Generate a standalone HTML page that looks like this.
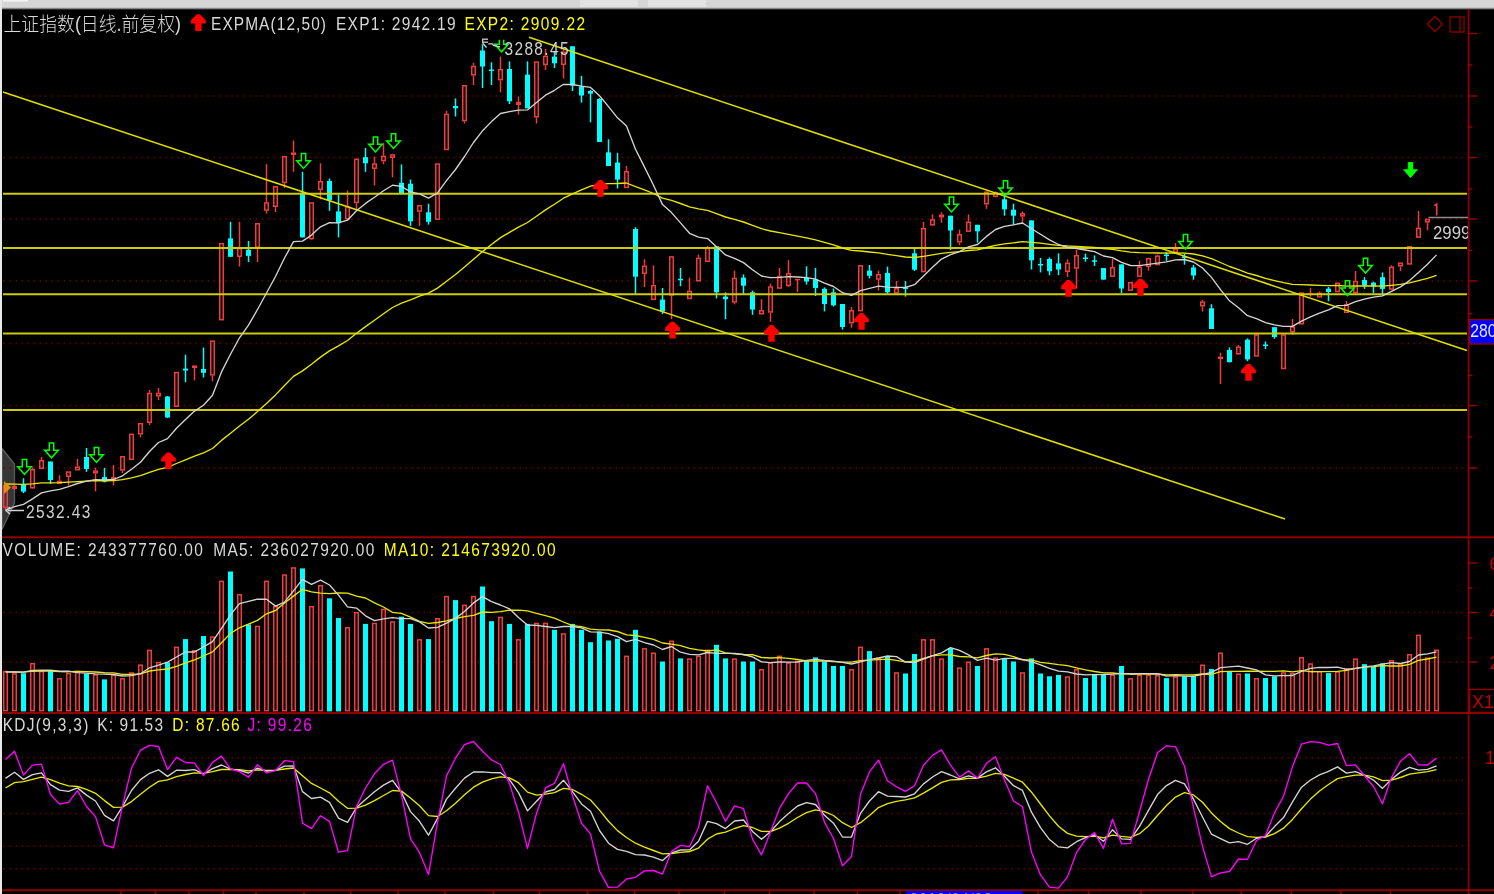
<!DOCTYPE html>
<html><head><meta charset="utf-8"><title>上证指数</title>
<style>html,body{margin:0;padding:0;background:#000;overflow:hidden;width:1494px;height:894px}</style>
</head><body>
<svg width="1494" height="894" viewBox="0 0 1494 894" style="display:block;will-change:transform">
<rect width="1494" height="894" fill="#000"/>
<polygon points="2,448.5 14.5,464 14.5,503 2,529.5" fill="#363636" stroke="#5c5c5c" stroke-width="1.3"/>
<line x1="3" y1="96" x2="1466" y2="96" stroke="#6e0000" stroke-width="1.5" stroke-dasharray="1.5 4.5" stroke-dashoffset="-0.5"/>
<line x1="3" y1="157.5" x2="1466" y2="157.5" stroke="#6e0000" stroke-width="1.5" stroke-dasharray="1.5 4.5" stroke-dashoffset="-0.5"/>
<line x1="3" y1="219" x2="1466" y2="219" stroke="#6e0000" stroke-width="1.5" stroke-dasharray="1.5 4.5" stroke-dashoffset="-0.5"/>
<line x1="3" y1="281" x2="1466" y2="281" stroke="#6e0000" stroke-width="1.5" stroke-dasharray="1.5 4.5" stroke-dashoffset="-0.5"/>
<line x1="3" y1="343.5" x2="1466" y2="343.5" stroke="#6e0000" stroke-width="1.5" stroke-dasharray="1.5 4.5" stroke-dashoffset="-0.5"/>
<line x1="3" y1="405.5" x2="1466" y2="405.5" stroke="#6e0000" stroke-width="1.5" stroke-dasharray="1.5 4.5" stroke-dashoffset="-0.5"/>
<line x1="3" y1="468" x2="1466" y2="468" stroke="#6e0000" stroke-width="1.5" stroke-dasharray="1.5 4.5" stroke-dashoffset="-0.5"/>
<line x1="3" y1="612.5" x2="1466" y2="612.5" stroke="#6e0000" stroke-width="1.5" stroke-dasharray="1.5 4.5" stroke-dashoffset="-0.5"/>
<line x1="3" y1="662" x2="1466" y2="662" stroke="#6e0000" stroke-width="1.5" stroke-dasharray="1.5 4.5" stroke-dashoffset="-0.5"/>
<line x1="3" y1="757.8" x2="1466" y2="757.8" stroke="#6e0000" stroke-width="1.5" stroke-dasharray="1.5 4.5" stroke-dashoffset="-0.5"/>
<line x1="3" y1="780.5" x2="1466" y2="780.5" stroke="#6e0000" stroke-width="1.5" stroke-dasharray="1.5 4.5" stroke-dashoffset="-0.5"/>
<line x1="3" y1="813.5" x2="1466" y2="813.5" stroke="#6e0000" stroke-width="1.5" stroke-dasharray="1.5 4.5" stroke-dashoffset="-0.5"/>
<line x1="3" y1="846" x2="1466" y2="846" stroke="#6e0000" stroke-width="1.5" stroke-dasharray="1.5 4.5" stroke-dashoffset="-0.5"/>
<line x1="3" y1="868.8" x2="1466" y2="868.8" stroke="#6e0000" stroke-width="1.5" stroke-dasharray="1.5 4.5" stroke-dashoffset="-0.5"/>
<line x1="5.5" y1="484.0" x2="5.5" y2="485.0" stroke="#f03c3c" stroke-width="1.5"/><line x1="5.5" y1="508.0" x2="5.5" y2="510.0" stroke="#f03c3c" stroke-width="1.5"/><rect x="3.75" y="485.75" width="3.5" height="21.50" fill="none" stroke="#f03c3c" stroke-width="1.5"/><line x1="14.5" y1="485.0" x2="14.5" y2="486.0" stroke="#f03c3c" stroke-width="1.5"/><line x1="14.5" y1="489.0" x2="14.5" y2="490.0" stroke="#f03c3c" stroke-width="1.5"/><rect x="12.75" y="486.75" width="3.5" height="1.50" fill="none" stroke="#f03c3c" stroke-width="1.5"/><line x1="23.5" y1="478.3" x2="23.5" y2="493.1" stroke="#00ffff" stroke-width="1.5"/><rect x="21.0" y="484.1" width="5" height="7.50" fill="#00ffff"/><line x1="32.5" y1="467.5" x2="32.5" y2="469.0" stroke="#f03c3c" stroke-width="1.5"/><line x1="32.5" y1="488.5" x2="32.5" y2="489.0" stroke="#f03c3c" stroke-width="1.5"/><rect x="30.75" y="469.75" width="3.5" height="18.00" fill="none" stroke="#f03c3c" stroke-width="1.5"/><line x1="41.5" y1="457.0" x2="41.5" y2="460.0" stroke="#f03c3c" stroke-width="1.5"/><rect x="39.75" y="460.75" width="3.5" height="7.50" fill="none" stroke="#f03c3c" stroke-width="1.5"/><line x1="50.5" y1="461.5" x2="50.5" y2="484.0" stroke="#00ffff" stroke-width="1.5"/><rect x="48.0" y="461.5" width="5" height="18.50" fill="#00ffff"/><line x1="59.5" y1="475.3" x2="59.5" y2="480.7" stroke="#f03c3c" stroke-width="1.5"/><rect x="57.75" y="481.45" width="3.5" height="1.80" fill="none" stroke="#f03c3c" stroke-width="1.5"/><line x1="68.5" y1="477.0" x2="68.5" y2="485.6" stroke="#f03c3c" stroke-width="1.5"/><rect x="66.75" y="472.05" width="3.5" height="4.20" fill="none" stroke="#f03c3c" stroke-width="1.5"/><line x1="77.5" y1="459.0" x2="77.5" y2="466.4" stroke="#f03c3c" stroke-width="1.5"/><rect x="75.75" y="467.15" width="3.5" height="2.50" fill="none" stroke="#f03c3c" stroke-width="1.5"/><line x1="86.5" y1="448.0" x2="86.5" y2="471.8" stroke="#00ffff" stroke-width="1.5"/><rect x="84.0" y="457.0" width="5" height="12.00" fill="#00ffff"/><line x1="95.5" y1="467.7" x2="95.5" y2="470.4" stroke="#f03c3c" stroke-width="1.5"/><line x1="95.5" y1="473.5" x2="95.5" y2="491.4" stroke="#f03c3c" stroke-width="1.5"/><rect x="93.75" y="471.15" width="3.5" height="1.60" fill="none" stroke="#f03c3c" stroke-width="1.5"/><line x1="104.5" y1="467.8" x2="104.5" y2="482.4" stroke="#00ffff" stroke-width="1.5"/><rect x="102.0" y="477.0" width="5" height="4.70" fill="#00ffff"/><line x1="113.5" y1="465.0" x2="113.5" y2="477.0" stroke="#f03c3c" stroke-width="1.5"/><line x1="113.5" y1="480.0" x2="113.5" y2="485.5" stroke="#f03c3c" stroke-width="1.5"/><rect x="111.75" y="477.75" width="3.5" height="1.50" fill="none" stroke="#f03c3c" stroke-width="1.5"/><line x1="122.5" y1="470.7" x2="122.5" y2="473.0" stroke="#f03c3c" stroke-width="1.5"/><rect x="120.75" y="456.75" width="3.5" height="13.20" fill="none" stroke="#f03c3c" stroke-width="1.5"/><rect x="129.75" y="434.35" width="3.5" height="24.90" fill="none" stroke="#f03c3c" stroke-width="1.5"/><line x1="140.5" y1="434.6" x2="140.5" y2="437.4" stroke="#f03c3c" stroke-width="1.5"/><rect x="138.75" y="423.75" width="3.5" height="10.10" fill="none" stroke="#f03c3c" stroke-width="1.5"/><line x1="149.5" y1="390.0" x2="149.5" y2="392.7" stroke="#f03c3c" stroke-width="1.5"/><line x1="149.5" y1="423.0" x2="149.5" y2="425.0" stroke="#f03c3c" stroke-width="1.5"/><rect x="147.75" y="393.45" width="3.5" height="28.80" fill="none" stroke="#f03c3c" stroke-width="1.5"/><line x1="158.5" y1="388.0" x2="158.5" y2="392.7" stroke="#f03c3c" stroke-width="1.5"/><line x1="158.5" y1="396.5" x2="158.5" y2="400.0" stroke="#f03c3c" stroke-width="1.5"/><rect x="156.75" y="393.45" width="3.5" height="2.30" fill="none" stroke="#f03c3c" stroke-width="1.5"/><line x1="167.5" y1="396.0" x2="167.5" y2="418.0" stroke="#00ffff" stroke-width="1.5"/><rect x="165.0" y="396.5" width="5" height="21.00" fill="#00ffff"/><rect x="174.75" y="372.55" width="3.5" height="33.70" fill="none" stroke="#f03c3c" stroke-width="1.5"/><line x1="185.5" y1="354.7" x2="185.5" y2="382.3" stroke="#00ffff" stroke-width="1.5"/><rect x="183.0" y="368.6" width="5" height="1.90" fill="#00ffff"/><line x1="194.5" y1="365.0" x2="194.5" y2="365.5" stroke="#f03c3c" stroke-width="1.5"/><line x1="194.5" y1="368.0" x2="194.5" y2="380.4" stroke="#f03c3c" stroke-width="1.5"/><rect x="192.75" y="366.25" width="3.5" height="1.00" fill="none" stroke="#f03c3c" stroke-width="1.5"/><line x1="203.5" y1="347.5" x2="203.5" y2="377.5" stroke="#00ffff" stroke-width="1.5"/><rect x="201.0" y="369.0" width="5" height="3.80" fill="#00ffff"/><line x1="212.5" y1="375.6" x2="212.5" y2="381.3" stroke="#f03c3c" stroke-width="1.5"/><rect x="210.75" y="341.25" width="3.5" height="33.60" fill="none" stroke="#f03c3c" stroke-width="1.5"/><rect x="219.75" y="243.75" width="3.5" height="75.90" fill="none" stroke="#f03c3c" stroke-width="1.5"/><line x1="230.5" y1="221.8" x2="230.5" y2="256.8" stroke="#00ffff" stroke-width="1.5"/><rect x="228.0" y="238.4" width="5" height="18.40" fill="#00ffff"/><line x1="239.5" y1="221.8" x2="239.5" y2="247.9" stroke="#f03c3c" stroke-width="1.5"/><line x1="239.5" y1="257.0" x2="239.5" y2="266.5" stroke="#f03c3c" stroke-width="1.5"/><rect x="237.75" y="248.65" width="3.5" height="7.60" fill="none" stroke="#f03c3c" stroke-width="1.5"/><line x1="248.5" y1="241.0" x2="248.5" y2="262.0" stroke="#00ffff" stroke-width="1.5"/><rect x="246.0" y="249.8" width="5" height="6.10" fill="#00ffff"/><line x1="257.5" y1="247.9" x2="257.5" y2="262.0" stroke="#f03c3c" stroke-width="1.5"/><rect x="255.75" y="223.75" width="3.5" height="23.40" fill="none" stroke="#f03c3c" stroke-width="1.5"/><line x1="266.5" y1="164.2" x2="266.5" y2="202.2" stroke="#f03c3c" stroke-width="1.5"/><line x1="266.5" y1="210.8" x2="266.5" y2="213.6" stroke="#f03c3c" stroke-width="1.5"/><rect x="264.75" y="202.95" width="3.5" height="7.10" fill="none" stroke="#f03c3c" stroke-width="1.5"/><line x1="275.5" y1="207.0" x2="275.5" y2="212.0" stroke="#f03c3c" stroke-width="1.5"/><rect x="273.75" y="186.75" width="3.5" height="19.50" fill="none" stroke="#f03c3c" stroke-width="1.5"/><line x1="284.5" y1="183.2" x2="284.5" y2="188.0" stroke="#f03c3c" stroke-width="1.5"/><rect x="282.75" y="156.75" width="3.5" height="25.70" fill="none" stroke="#f03c3c" stroke-width="1.5"/><line x1="293.5" y1="140.5" x2="293.5" y2="152.4" stroke="#f03c3c" stroke-width="1.5"/><line x1="293.5" y1="155.0" x2="293.5" y2="171.8" stroke="#f03c3c" stroke-width="1.5"/><rect x="291.75" y="153.15" width="3.5" height="1.10" fill="none" stroke="#f03c3c" stroke-width="1.5"/><line x1="302.5" y1="171.8" x2="302.5" y2="237.4" stroke="#00ffff" stroke-width="1.5"/><rect x="300.0" y="192.7" width="5" height="44.70" fill="#00ffff"/><line x1="311.5" y1="239.3" x2="311.5" y2="240.0" stroke="#f03c3c" stroke-width="1.5"/><rect x="309.75" y="202.95" width="3.5" height="35.60" fill="none" stroke="#f03c3c" stroke-width="1.5"/><line x1="320.5" y1="163.3" x2="320.5" y2="181.0" stroke="#f03c3c" stroke-width="1.5"/><line x1="320.5" y1="190.0" x2="320.5" y2="199.4" stroke="#f03c3c" stroke-width="1.5"/><rect x="318.75" y="181.75" width="3.5" height="7.50" fill="none" stroke="#f03c3c" stroke-width="1.5"/><line x1="329.5" y1="178.5" x2="329.5" y2="210.8" stroke="#00ffff" stroke-width="1.5"/><rect x="327.0" y="181.0" width="5" height="19.30" fill="#00ffff"/><line x1="338.5" y1="194.6" x2="338.5" y2="237.4" stroke="#00ffff" stroke-width="1.5"/><rect x="336.0" y="211.4" width="5" height="11.80" fill="#00ffff"/><line x1="347.5" y1="190.5" x2="347.5" y2="206.0" stroke="#f03c3c" stroke-width="1.5"/><line x1="347.5" y1="219.4" x2="347.5" y2="220.3" stroke="#f03c3c" stroke-width="1.5"/><rect x="345.75" y="206.75" width="3.5" height="11.90" fill="none" stroke="#f03c3c" stroke-width="1.5"/><line x1="356.5" y1="203.2" x2="356.5" y2="209.8" stroke="#f03c3c" stroke-width="1.5"/><rect x="354.75" y="159.25" width="3.5" height="43.20" fill="none" stroke="#f03c3c" stroke-width="1.5"/><line x1="365.5" y1="148.0" x2="365.5" y2="171.8" stroke="#00ffff" stroke-width="1.5"/><rect x="363.0" y="157.2" width="5" height="6.10" fill="#00ffff"/><line x1="374.5" y1="156.6" x2="374.5" y2="163.3" stroke="#f03c3c" stroke-width="1.5"/><line x1="374.5" y1="169.0" x2="374.5" y2="185.5" stroke="#f03c3c" stroke-width="1.5"/><rect x="372.75" y="164.05" width="3.5" height="4.20" fill="none" stroke="#f03c3c" stroke-width="1.5"/><line x1="383.5" y1="143.3" x2="383.5" y2="155.6" stroke="#f03c3c" stroke-width="1.5"/><line x1="383.5" y1="161.3" x2="383.5" y2="164.2" stroke="#f03c3c" stroke-width="1.5"/><rect x="381.75" y="156.35" width="3.5" height="4.20" fill="none" stroke="#f03c3c" stroke-width="1.5"/><line x1="392.5" y1="153.8" x2="392.5" y2="154.3" stroke="#f03c3c" stroke-width="1.5"/><line x1="392.5" y1="158.0" x2="392.5" y2="177.4" stroke="#f03c3c" stroke-width="1.5"/><rect x="390.75" y="155.05" width="3.5" height="2.20" fill="none" stroke="#f03c3c" stroke-width="1.5"/><line x1="401.5" y1="164.4" x2="401.5" y2="193.3" stroke="#00ffff" stroke-width="1.5"/><rect x="399.0" y="182.8" width="5" height="10.50" fill="#00ffff"/><line x1="410.5" y1="179.5" x2="410.5" y2="226.0" stroke="#00ffff" stroke-width="1.5"/><rect x="408.0" y="183.7" width="5" height="37.60" fill="#00ffff"/><line x1="419.5" y1="211.8" x2="419.5" y2="226.0" stroke="#f03c3c" stroke-width="1.5"/><rect x="417.75" y="205.75" width="3.5" height="5.30" fill="none" stroke="#f03c3c" stroke-width="1.5"/><line x1="428.5" y1="203.7" x2="428.5" y2="224.6" stroke="#00ffff" stroke-width="1.5"/><rect x="426.0" y="212.3" width="5" height="9.50" fill="#00ffff"/><rect x="435.75" y="164.05" width="3.5" height="55.10" fill="none" stroke="#f03c3c" stroke-width="1.5"/><line x1="446.5" y1="110.8" x2="446.5" y2="113.6" stroke="#f03c3c" stroke-width="1.5"/><rect x="444.75" y="114.35" width="3.5" height="35.10" fill="none" stroke="#f03c3c" stroke-width="1.5"/><line x1="455.5" y1="98.4" x2="455.5" y2="116.5" stroke="#00ffff" stroke-width="1.5"/><rect x="453.0" y="106.0" width="5" height="2.30" fill="#00ffff"/><line x1="464.5" y1="121.3" x2="464.5" y2="123.5" stroke="#f03c3c" stroke-width="1.5"/><rect x="462.75" y="85.75" width="3.5" height="34.80" fill="none" stroke="#f03c3c" stroke-width="1.5"/><line x1="473.5" y1="62.7" x2="473.5" y2="65.7" stroke="#f03c3c" stroke-width="1.5"/><line x1="473.5" y1="75.6" x2="473.5" y2="85.0" stroke="#f03c3c" stroke-width="1.5"/><rect x="471.75" y="66.45" width="3.5" height="8.40" fill="none" stroke="#f03c3c" stroke-width="1.5"/><line x1="482.5" y1="44.3" x2="482.5" y2="88.0" stroke="#00ffff" stroke-width="1.5"/><rect x="480.0" y="50.5" width="5" height="16.00" fill="#00ffff"/><line x1="491.5" y1="62.3" x2="491.5" y2="85.0" stroke="#00ffff" stroke-width="1.5"/><rect x="489.0" y="69.5" width="5" height="1.50" fill="#00ffff"/><line x1="500.5" y1="56.6" x2="500.5" y2="69.0" stroke="#f03c3c" stroke-width="1.5"/><line x1="500.5" y1="80.4" x2="500.5" y2="92.4" stroke="#f03c3c" stroke-width="1.5"/><rect x="498.75" y="69.75" width="3.5" height="9.90" fill="none" stroke="#f03c3c" stroke-width="1.5"/><line x1="509.5" y1="61.4" x2="509.5" y2="104.0" stroke="#00ffff" stroke-width="1.5"/><rect x="507.0" y="69.0" width="5" height="32.30" fill="#00ffff"/><line x1="518.5" y1="96.5" x2="518.5" y2="101.9" stroke="#f03c3c" stroke-width="1.5"/><line x1="518.5" y1="105.0" x2="518.5" y2="114.6" stroke="#f03c3c" stroke-width="1.5"/><rect x="516.75" y="102.65" width="3.5" height="1.60" fill="none" stroke="#f03c3c" stroke-width="1.5"/><line x1="527.5" y1="61.4" x2="527.5" y2="108.3" stroke="#00ffff" stroke-width="1.5"/><rect x="525.0" y="74.7" width="5" height="33.60" fill="#00ffff"/><line x1="536.5" y1="117.5" x2="536.5" y2="123.5" stroke="#f03c3c" stroke-width="1.5"/><rect x="534.75" y="62.15" width="3.5" height="54.60" fill="none" stroke="#f03c3c" stroke-width="1.5"/><line x1="545.5" y1="49.0" x2="545.5" y2="55.7" stroke="#f03c3c" stroke-width="1.5"/><line x1="545.5" y1="65.2" x2="545.5" y2="70.0" stroke="#f03c3c" stroke-width="1.5"/><rect x="543.75" y="56.45" width="3.5" height="8.00" fill="none" stroke="#f03c3c" stroke-width="1.5"/><line x1="554.5" y1="51.0" x2="554.5" y2="68.0" stroke="#00ffff" stroke-width="1.5"/><rect x="552.0" y="56.6" width="5" height="6.70" fill="#00ffff"/><line x1="563.5" y1="49.0" x2="563.5" y2="51.5" stroke="#f03c3c" stroke-width="1.5"/><line x1="563.5" y1="65.0" x2="563.5" y2="78.5" stroke="#f03c3c" stroke-width="1.5"/><rect x="561.75" y="52.25" width="3.5" height="12.00" fill="none" stroke="#f03c3c" stroke-width="1.5"/><line x1="572.5" y1="46.2" x2="572.5" y2="91.0" stroke="#00ffff" stroke-width="1.5"/><rect x="570.0" y="46.3" width="5" height="39.30" fill="#00ffff"/><line x1="581.5" y1="75.8" x2="581.5" y2="102.6" stroke="#00ffff" stroke-width="1.5"/><rect x="579.0" y="86.5" width="5" height="9.00" fill="#00ffff"/><line x1="590.5" y1="90.0" x2="590.5" y2="122.3" stroke="#00ffff" stroke-width="1.5"/><rect x="588.0" y="91.0" width="5" height="2.70" fill="#00ffff"/><line x1="599.5" y1="98.0" x2="599.5" y2="142.0" stroke="#00ffff" stroke-width="1.5"/><rect x="597.0" y="99.0" width="5" height="43.00" fill="#00ffff"/><line x1="608.5" y1="139.3" x2="608.5" y2="166.0" stroke="#00ffff" stroke-width="1.5"/><rect x="606.0" y="152.4" width="5" height="13.60" fill="#00ffff"/><line x1="617.5" y1="152.8" x2="617.5" y2="188.5" stroke="#00ffff" stroke-width="1.5"/><rect x="615.0" y="162.6" width="5" height="17.00" fill="#00ffff"/><line x1="626.5" y1="166.0" x2="626.5" y2="171.0" stroke="#f03c3c" stroke-width="1.5"/><rect x="624.75" y="171.75" width="3.5" height="15.70" fill="none" stroke="#f03c3c" stroke-width="1.5"/><line x1="635.5" y1="227.3" x2="635.5" y2="294.0" stroke="#00ffff" stroke-width="1.5"/><rect x="633.0" y="229.0" width="5" height="47.70" fill="#00ffff"/><line x1="644.5" y1="259.3" x2="644.5" y2="265.4" stroke="#f03c3c" stroke-width="1.5"/><line x1="644.5" y1="274.1" x2="644.5" y2="287.0" stroke="#f03c3c" stroke-width="1.5"/><rect x="642.75" y="266.15" width="3.5" height="7.20" fill="none" stroke="#f03c3c" stroke-width="1.5"/><line x1="653.5" y1="265.4" x2="653.5" y2="285.0" stroke="#f03c3c" stroke-width="1.5"/><rect x="651.75" y="285.75" width="3.5" height="13.60" fill="none" stroke="#f03c3c" stroke-width="1.5"/><line x1="662.5" y1="288.0" x2="662.5" y2="314.0" stroke="#00ffff" stroke-width="1.5"/><rect x="660.0" y="299.6" width="5" height="11.80" fill="#00ffff"/><line x1="671.5" y1="295.8" x2="671.5" y2="319.2" stroke="#f03c3c" stroke-width="1.5"/><rect x="669.75" y="256.95" width="3.5" height="38.10" fill="none" stroke="#f03c3c" stroke-width="1.5"/><line x1="680.5" y1="268.0" x2="680.5" y2="286.2" stroke="#00ffff" stroke-width="1.5"/><rect x="678.0" y="278.8" width="5" height="1.50" fill="#00ffff"/><line x1="689.5" y1="277.6" x2="689.5" y2="290.6" stroke="#f03c3c" stroke-width="1.5"/><rect x="687.75" y="291.35" width="3.5" height="7.10" fill="none" stroke="#f03c3c" stroke-width="1.5"/><line x1="698.5" y1="254.5" x2="698.5" y2="257.6" stroke="#f03c3c" stroke-width="1.5"/><rect x="696.75" y="258.35" width="3.5" height="22.40" fill="none" stroke="#f03c3c" stroke-width="1.5"/><line x1="707.5" y1="246.0" x2="707.5" y2="247.0" stroke="#f03c3c" stroke-width="1.5"/><rect x="705.75" y="247.75" width="3.5" height="13.50" fill="none" stroke="#f03c3c" stroke-width="1.5"/><line x1="716.5" y1="246.3" x2="716.5" y2="298.4" stroke="#00ffff" stroke-width="1.5"/><rect x="714.0" y="246.3" width="5" height="46.00" fill="#00ffff"/><line x1="725.5" y1="292.3" x2="725.5" y2="319.2" stroke="#00ffff" stroke-width="1.5"/><rect x="723.0" y="296.6" width="5" height="2.60" fill="#00ffff"/><line x1="734.5" y1="270.6" x2="734.5" y2="277.6" stroke="#f03c3c" stroke-width="1.5"/><line x1="734.5" y1="302.7" x2="734.5" y2="304.4" stroke="#f03c3c" stroke-width="1.5"/><rect x="732.75" y="278.35" width="3.5" height="23.60" fill="none" stroke="#f03c3c" stroke-width="1.5"/><line x1="743.5" y1="274.4" x2="743.5" y2="293.7" stroke="#00ffff" stroke-width="1.5"/><rect x="741.0" y="277.6" width="5" height="8.10" fill="#00ffff"/><line x1="752.5" y1="290.6" x2="752.5" y2="314.8" stroke="#00ffff" stroke-width="1.5"/><rect x="750.0" y="292.3" width="5" height="17.30" fill="#00ffff"/><line x1="761.5" y1="299.2" x2="761.5" y2="310.0" stroke="#f03c3c" stroke-width="1.5"/><rect x="759.75" y="310.75" width="3.5" height="3.00" fill="none" stroke="#f03c3c" stroke-width="1.5"/><line x1="770.5" y1="283.6" x2="770.5" y2="286.2" stroke="#f03c3c" stroke-width="1.5"/><line x1="770.5" y1="312.7" x2="770.5" y2="321.8" stroke="#f03c3c" stroke-width="1.5"/><rect x="768.75" y="286.95" width="3.5" height="25.00" fill="none" stroke="#f03c3c" stroke-width="1.5"/><line x1="779.5" y1="268.0" x2="779.5" y2="275.8" stroke="#f03c3c" stroke-width="1.5"/><rect x="777.75" y="276.55" width="3.5" height="11.50" fill="none" stroke="#f03c3c" stroke-width="1.5"/><line x1="788.5" y1="260.2" x2="788.5" y2="272.9" stroke="#f03c3c" stroke-width="1.5"/><line x1="788.5" y1="286.2" x2="788.5" y2="287.0" stroke="#f03c3c" stroke-width="1.5"/><rect x="786.75" y="273.65" width="3.5" height="11.80" fill="none" stroke="#f03c3c" stroke-width="1.5"/><line x1="797.5" y1="279.8" x2="797.5" y2="292.0" stroke="#f03c3c" stroke-width="1.5"/><rect x="795.75" y="279.55" width="3.5" height="0.01" fill="none" stroke="#f03c3c" stroke-width="1.5"/><line x1="806.5" y1="266.3" x2="806.5" y2="284.5" stroke="#00ffff" stroke-width="1.5"/><rect x="804.0" y="278.0" width="5" height="3.50" fill="#00ffff"/><line x1="815.5" y1="268.0" x2="815.5" y2="296.0" stroke="#00ffff" stroke-width="1.5"/><rect x="813.0" y="279.3" width="5" height="8.70" fill="#00ffff"/><line x1="824.5" y1="287.4" x2="824.5" y2="311.4" stroke="#00ffff" stroke-width="1.5"/><rect x="822.0" y="288.8" width="5" height="15.20" fill="#00ffff"/><line x1="833.5" y1="288.5" x2="833.5" y2="306.5" stroke="#00ffff" stroke-width="1.5"/><rect x="831.0" y="292.3" width="5" height="13.00" fill="#00ffff"/><line x1="842.5" y1="304.0" x2="842.5" y2="329.6" stroke="#00ffff" stroke-width="1.5"/><rect x="840.0" y="304.0" width="5" height="23.00" fill="#00ffff"/><line x1="851.5" y1="307.0" x2="851.5" y2="310.0" stroke="#f03c3c" stroke-width="1.5"/><line x1="851.5" y1="323.5" x2="851.5" y2="327.8" stroke="#f03c3c" stroke-width="1.5"/><rect x="849.75" y="310.75" width="3.5" height="12.00" fill="none" stroke="#f03c3c" stroke-width="1.5"/><rect x="858.75" y="265.75" width="3.5" height="44.90" fill="none" stroke="#f03c3c" stroke-width="1.5"/><line x1="869.5" y1="265.0" x2="869.5" y2="278.4" stroke="#00ffff" stroke-width="1.5"/><rect x="867.0" y="270.6" width="5" height="5.20" fill="#00ffff"/><line x1="878.5" y1="270.6" x2="878.5" y2="274.0" stroke="#f03c3c" stroke-width="1.5"/><line x1="878.5" y1="279.8" x2="878.5" y2="290.6" stroke="#f03c3c" stroke-width="1.5"/><rect x="876.75" y="274.75" width="3.5" height="4.30" fill="none" stroke="#f03c3c" stroke-width="1.5"/><line x1="887.5" y1="266.6" x2="887.5" y2="293.7" stroke="#00ffff" stroke-width="1.5"/><rect x="885.0" y="272.9" width="5" height="19.40" fill="#00ffff"/><line x1="896.5" y1="281.0" x2="896.5" y2="288.0" stroke="#f03c3c" stroke-width="1.5"/><rect x="894.75" y="288.75" width="3.5" height="4.20" fill="none" stroke="#f03c3c" stroke-width="1.5"/><line x1="905.5" y1="281.0" x2="905.5" y2="296.6" stroke="#00ffff" stroke-width="1.5"/><rect x="903.0" y="287.5" width="5" height="1.50" fill="#00ffff"/><line x1="914.5" y1="248.0" x2="914.5" y2="271.0" stroke="#00ffff" stroke-width="1.5"/><rect x="912.0" y="253.3" width="5" height="16.40" fill="#00ffff"/><line x1="923.5" y1="222.0" x2="923.5" y2="228.0" stroke="#f03c3c" stroke-width="1.5"/><rect x="921.75" y="228.75" width="3.5" height="42.80" fill="none" stroke="#f03c3c" stroke-width="1.5"/><line x1="932.5" y1="214.5" x2="932.5" y2="219.2" stroke="#f03c3c" stroke-width="1.5"/><rect x="930.75" y="219.95" width="3.5" height="4.90" fill="none" stroke="#f03c3c" stroke-width="1.5"/><line x1="941.5" y1="212.3" x2="941.5" y2="214.5" stroke="#f03c3c" stroke-width="1.5"/><line x1="941.5" y1="217.5" x2="941.5" y2="222.7" stroke="#f03c3c" stroke-width="1.5"/><rect x="939.75" y="215.25" width="3.5" height="1.50" fill="none" stroke="#f03c3c" stroke-width="1.5"/><line x1="950.5" y1="215.7" x2="950.5" y2="250.0" stroke="#00ffff" stroke-width="1.5"/><rect x="948.0" y="215.7" width="5" height="14.80" fill="#00ffff"/><line x1="959.5" y1="229.6" x2="959.5" y2="234.0" stroke="#f03c3c" stroke-width="1.5"/><line x1="959.5" y1="242.6" x2="959.5" y2="245.2" stroke="#f03c3c" stroke-width="1.5"/><rect x="957.75" y="234.75" width="3.5" height="7.10" fill="none" stroke="#f03c3c" stroke-width="1.5"/><line x1="968.5" y1="214.5" x2="968.5" y2="221.5" stroke="#f03c3c" stroke-width="1.5"/><rect x="966.75" y="222.25" width="3.5" height="8.90" fill="none" stroke="#f03c3c" stroke-width="1.5"/><line x1="977.5" y1="224.8" x2="977.5" y2="242.6" stroke="#00ffff" stroke-width="1.5"/><rect x="975.0" y="224.8" width="5" height="6.50" fill="#00ffff"/><line x1="986.5" y1="190.5" x2="986.5" y2="191.5" stroke="#f03c3c" stroke-width="1.5"/><line x1="986.5" y1="204.5" x2="986.5" y2="208.8" stroke="#f03c3c" stroke-width="1.5"/><rect x="984.75" y="192.25" width="3.5" height="11.50" fill="none" stroke="#f03c3c" stroke-width="1.5"/><line x1="995.5" y1="191.5" x2="995.5" y2="192.0" stroke="#f03c3c" stroke-width="1.5"/><line x1="995.5" y1="197.0" x2="995.5" y2="197.5" stroke="#f03c3c" stroke-width="1.5"/><rect x="993.75" y="192.75" width="3.5" height="3.50" fill="none" stroke="#f03c3c" stroke-width="1.5"/><line x1="1004.5" y1="194.4" x2="1004.5" y2="215.7" stroke="#00ffff" stroke-width="1.5"/><rect x="1002.0" y="199.3" width="5" height="10.00" fill="#00ffff"/><line x1="1013.5" y1="203.6" x2="1013.5" y2="224.4" stroke="#00ffff" stroke-width="1.5"/><rect x="1011.0" y="209.7" width="5" height="6.00" fill="#00ffff"/><line x1="1022.5" y1="211.4" x2="1022.5" y2="213.0" stroke="#f03c3c" stroke-width="1.5"/><line x1="1022.5" y1="216.6" x2="1022.5" y2="222.7" stroke="#f03c3c" stroke-width="1.5"/><rect x="1020.75" y="213.75" width="3.5" height="2.10" fill="none" stroke="#f03c3c" stroke-width="1.5"/><line x1="1031.5" y1="220.4" x2="1031.5" y2="269.5" stroke="#00ffff" stroke-width="1.5"/><rect x="1029.0" y="220.4" width="5" height="39.90" fill="#00ffff"/><line x1="1040.5" y1="257.9" x2="1040.5" y2="272.4" stroke="#00ffff" stroke-width="1.5"/><rect x="1038.0" y="264.0" width="5" height="1.50" fill="#00ffff"/><line x1="1049.5" y1="257.4" x2="1049.5" y2="275.2" stroke="#00ffff" stroke-width="1.5"/><rect x="1047.0" y="259.0" width="5" height="12.20" fill="#00ffff"/><line x1="1058.5" y1="253.4" x2="1058.5" y2="275.2" stroke="#00ffff" stroke-width="1.5"/><rect x="1056.0" y="263.4" width="5" height="6.10" fill="#00ffff"/><line x1="1067.5" y1="259.4" x2="1067.5" y2="262.5" stroke="#f03c3c" stroke-width="1.5"/><line x1="1067.5" y1="272.0" x2="1067.5" y2="277.0" stroke="#f03c3c" stroke-width="1.5"/><rect x="1065.75" y="263.25" width="3.5" height="8.00" fill="none" stroke="#f03c3c" stroke-width="1.5"/><line x1="1076.5" y1="250.0" x2="1076.5" y2="255.0" stroke="#f03c3c" stroke-width="1.5"/><line x1="1076.5" y1="268.8" x2="1076.5" y2="288.6" stroke="#f03c3c" stroke-width="1.5"/><rect x="1074.75" y="255.75" width="3.5" height="12.30" fill="none" stroke="#f03c3c" stroke-width="1.5"/><line x1="1085.5" y1="253.6" x2="1085.5" y2="261.7" stroke="#00ffff" stroke-width="1.5"/><rect x="1083.0" y="257.5" width="5" height="1.50" fill="#00ffff"/><line x1="1094.5" y1="255.4" x2="1094.5" y2="266.0" stroke="#00ffff" stroke-width="1.5"/><rect x="1092.0" y="260.3" width="5" height="1.50" fill="#00ffff"/><line x1="1103.5" y1="268.0" x2="1103.5" y2="279.6" stroke="#00ffff" stroke-width="1.5"/><rect x="1101.0" y="268.0" width="5" height="11.60" fill="#00ffff"/><line x1="1112.5" y1="259.0" x2="1112.5" y2="267.0" stroke="#f03c3c" stroke-width="1.5"/><rect x="1110.75" y="267.75" width="3.5" height="8.40" fill="none" stroke="#f03c3c" stroke-width="1.5"/><line x1="1121.5" y1="264.4" x2="1121.5" y2="293.0" stroke="#00ffff" stroke-width="1.5"/><rect x="1119.0" y="264.4" width="5" height="24.10" fill="#00ffff"/><rect x="1128.75" y="282.75" width="3.5" height="7.40" fill="none" stroke="#f03c3c" stroke-width="1.5"/><line x1="1139.5" y1="260.8" x2="1139.5" y2="266.5" stroke="#f03c3c" stroke-width="1.5"/><rect x="1137.75" y="267.25" width="3.5" height="8.90" fill="none" stroke="#f03c3c" stroke-width="1.5"/><line x1="1148.5" y1="267.0" x2="1148.5" y2="270.6" stroke="#f03c3c" stroke-width="1.5"/><rect x="1146.75" y="258.75" width="3.5" height="7.50" fill="none" stroke="#f03c3c" stroke-width="1.5"/><line x1="1157.5" y1="254.5" x2="1157.5" y2="255.4" stroke="#f03c3c" stroke-width="1.5"/><rect x="1155.75" y="256.15" width="3.5" height="8.40" fill="none" stroke="#f03c3c" stroke-width="1.5"/><line x1="1166.5" y1="251.8" x2="1166.5" y2="260.8" stroke="#00ffff" stroke-width="1.5"/><rect x="1164.0" y="254.5" width="5" height="1.50" fill="#00ffff"/><line x1="1175.5" y1="243.0" x2="1175.5" y2="248.3" stroke="#f03c3c" stroke-width="1.5"/><rect x="1173.75" y="249.05" width="3.5" height="2.90" fill="none" stroke="#f03c3c" stroke-width="1.5"/><line x1="1184.5" y1="253.6" x2="1184.5" y2="264.7" stroke="#00ffff" stroke-width="1.5"/><rect x="1182.0" y="256.3" width="5" height="1.70" fill="#00ffff"/><line x1="1193.5" y1="265.0" x2="1193.5" y2="279.7" stroke="#00ffff" stroke-width="1.5"/><rect x="1191.0" y="267.5" width="5" height="8.00" fill="#00ffff"/><line x1="1202.5" y1="299.8" x2="1202.5" y2="301.4" stroke="#f03c3c" stroke-width="1.5"/><line x1="1202.5" y1="306.5" x2="1202.5" y2="311.5" stroke="#f03c3c" stroke-width="1.5"/><rect x="1200.75" y="302.15" width="3.5" height="3.60" fill="none" stroke="#f03c3c" stroke-width="1.5"/><line x1="1211.5" y1="304.2" x2="1211.5" y2="329.0" stroke="#00ffff" stroke-width="1.5"/><rect x="1209.0" y="308.3" width="5" height="20.70" fill="#00ffff"/><line x1="1220.5" y1="352.7" x2="1220.5" y2="356.6" stroke="#f03c3c" stroke-width="1.5"/><line x1="1220.5" y1="359.0" x2="1220.5" y2="384.0" stroke="#f03c3c" stroke-width="1.5"/><rect x="1218.75" y="357.35" width="3.5" height="0.90" fill="none" stroke="#f03c3c" stroke-width="1.5"/><line x1="1229.5" y1="347.4" x2="1229.5" y2="362.4" stroke="#00ffff" stroke-width="1.5"/><rect x="1227.0" y="350.0" width="5" height="12.20" fill="#00ffff"/><line x1="1238.5" y1="345.0" x2="1238.5" y2="346.3" stroke="#f03c3c" stroke-width="1.5"/><line x1="1238.5" y1="354.5" x2="1238.5" y2="355.0" stroke="#f03c3c" stroke-width="1.5"/><rect x="1236.75" y="347.05" width="3.5" height="6.70" fill="none" stroke="#f03c3c" stroke-width="1.5"/><line x1="1247.5" y1="338.4" x2="1247.5" y2="361.2" stroke="#00ffff" stroke-width="1.5"/><rect x="1245.0" y="339.7" width="5" height="19.70" fill="#00ffff"/><line x1="1256.5" y1="333.5" x2="1256.5" y2="334.3" stroke="#f03c3c" stroke-width="1.5"/><rect x="1254.75" y="335.05" width="3.5" height="20.90" fill="none" stroke="#f03c3c" stroke-width="1.5"/><line x1="1265.5" y1="341.5" x2="1265.5" y2="349.2" stroke="#00ffff" stroke-width="1.5"/><rect x="1263.0" y="344.5" width="5" height="1.50" fill="#00ffff"/><line x1="1274.5" y1="327.2" x2="1274.5" y2="338.8" stroke="#00ffff" stroke-width="1.5"/><rect x="1272.0" y="327.2" width="5" height="9.80" fill="#00ffff"/><rect x="1281.75" y="335.05" width="3.5" height="33.40" fill="none" stroke="#f03c3c" stroke-width="1.5"/><line x1="1292.5" y1="319.0" x2="1292.5" y2="326.3" stroke="#f03c3c" stroke-width="1.5"/><line x1="1292.5" y1="332.5" x2="1292.5" y2="334.9" stroke="#f03c3c" stroke-width="1.5"/><rect x="1290.75" y="327.05" width="3.5" height="4.70" fill="none" stroke="#f03c3c" stroke-width="1.5"/><rect x="1299.75" y="293.05" width="3.5" height="30.70" fill="none" stroke="#f03c3c" stroke-width="1.5"/><line x1="1310.5" y1="287.8" x2="1310.5" y2="293.5" stroke="#f03c3c" stroke-width="1.5"/><line x1="1310.5" y1="294.5" x2="1310.5" y2="296.7" stroke="#f03c3c" stroke-width="1.5"/><rect x="1308.75" y="294.25" width="3.5" height="0.01" fill="none" stroke="#f03c3c" stroke-width="1.5"/><line x1="1319.5" y1="291.4" x2="1319.5" y2="292.6" stroke="#f03c3c" stroke-width="1.5"/><rect x="1317.75" y="293.35" width="3.5" height="3.50" fill="none" stroke="#f03c3c" stroke-width="1.5"/><line x1="1328.5" y1="287.0" x2="1328.5" y2="301.2" stroke="#00ffff" stroke-width="1.5"/><rect x="1326.0" y="288.7" width="5" height="3.30" fill="#00ffff"/><rect x="1335.75" y="283.25" width="3.5" height="8.30" fill="none" stroke="#f03c3c" stroke-width="1.5"/><line x1="1346.5" y1="301.2" x2="1346.5" y2="304.0" stroke="#f03c3c" stroke-width="1.5"/><rect x="1344.75" y="304.75" width="3.5" height="7.50" fill="none" stroke="#f03c3c" stroke-width="1.5"/><line x1="1355.5" y1="271.0" x2="1355.5" y2="280.8" stroke="#f03c3c" stroke-width="1.5"/><rect x="1353.75" y="281.55" width="3.5" height="11.00" fill="none" stroke="#f03c3c" stroke-width="1.5"/><line x1="1364.5" y1="277.2" x2="1364.5" y2="288.9" stroke="#00ffff" stroke-width="1.5"/><rect x="1362.0" y="280.0" width="5" height="5.30" fill="#00ffff"/><line x1="1373.5" y1="281.7" x2="1373.5" y2="293.3" stroke="#00ffff" stroke-width="1.5"/><rect x="1371.0" y="282.6" width="5" height="3.60" fill="#00ffff"/><line x1="1382.5" y1="272.4" x2="1382.5" y2="294.6" stroke="#00ffff" stroke-width="1.5"/><rect x="1380.0" y="277.2" width="5" height="11.70" fill="#00ffff"/><line x1="1391.5" y1="265.2" x2="1391.5" y2="266.5" stroke="#f03c3c" stroke-width="1.5"/><rect x="1389.75" y="267.25" width="3.5" height="21.80" fill="none" stroke="#f03c3c" stroke-width="1.5"/><line x1="1400.5" y1="266.5" x2="1400.5" y2="271.0" stroke="#f03c3c" stroke-width="1.5"/><rect x="1398.75" y="263.15" width="3.5" height="2.60" fill="none" stroke="#f03c3c" stroke-width="1.5"/><rect x="1407.75" y="246.65" width="3.5" height="17.30" fill="none" stroke="#f03c3c" stroke-width="1.5"/><line x1="1418.5" y1="211.0" x2="1418.5" y2="227.6" stroke="#f03c3c" stroke-width="1.5"/><rect x="1416.75" y="228.35" width="3.5" height="8.80" fill="none" stroke="#f03c3c" stroke-width="1.5"/><line x1="1427.5" y1="222.6" x2="1427.5" y2="230.2" stroke="#f03c3c" stroke-width="1.5"/><rect x="1425.75" y="219.45" width="3.5" height="2.40" fill="none" stroke="#f03c3c" stroke-width="1.5"/><polyline points="1434.3,205.6 1436.7,204 1436.7,215.6" fill="none" stroke="#f03c3c" stroke-width="1.6"/>
<line x1="3" y1="193.8" x2="1467" y2="193.8" stroke="#cccc00" stroke-width="2"/>
<line x1="3" y1="247.9" x2="1467" y2="247.9" stroke="#cccc00" stroke-width="2"/>
<line x1="3" y1="294.2" x2="1467" y2="294.2" stroke="#cccc00" stroke-width="2"/>
<line x1="3" y1="333.4" x2="1467" y2="333.4" stroke="#cccc00" stroke-width="2"/>
<line x1="3" y1="409.9" x2="1467" y2="409.9" stroke="#cccc00" stroke-width="2"/>
<line x1="3" y1="92" x2="1285" y2="519" stroke="#e0e000" stroke-width="1.5"/>
<line x1="529" y1="37.3" x2="1467" y2="350.5" stroke="#e0e000" stroke-width="1.5"/>
<polyline points="5.5,484.0 14.5,484.1 23.5,484.4 32.5,483.8 41.5,482.9 50.5,482.8 59.5,482.7 68.5,482.2 77.5,481.6 86.5,481.1 95.5,480.7 104.5,480.7 113.5,480.6 122.5,479.6 131.5,477.8 140.5,475.7 149.5,472.4 158.5,469.3 167.5,467.3 176.5,463.5 185.5,459.9 194.5,456.2 203.5,452.9 212.5,448.5 221.5,440.4 230.5,433.2 239.5,426.0 248.5,419.3 257.5,411.6 266.5,403.4 275.5,394.9 284.5,385.5 293.5,376.4 302.5,370.9 311.5,364.3 320.5,357.1 329.5,350.9 338.5,345.9 347.5,340.5 356.5,333.3 365.5,326.6 374.5,320.2 383.5,313.8 392.5,307.5 401.5,303.1 410.5,299.8 419.5,296.1 428.5,293.2 437.5,288.1 446.5,281.3 455.5,274.5 464.5,267.1 473.5,259.2 482.5,251.6 491.5,244.5 500.5,237.6 509.5,232.3 518.5,227.2 527.5,222.5 536.5,216.2 545.5,209.9 554.5,204.2 563.5,198.2 572.5,193.8 581.5,189.9 590.5,186.1 599.5,184.4 608.5,183.7 617.5,183.5 626.5,183.0 635.5,186.7 644.5,189.8 653.5,193.5 662.5,198.1 671.5,200.4 680.5,203.5 689.5,206.9 698.5,208.9 707.5,210.4 716.5,213.6 725.5,217.0 734.5,219.4 743.5,222.0 752.5,225.4 761.5,228.7 770.5,231.0 779.5,232.7 788.5,234.3 797.5,236.1 806.5,237.8 815.5,239.8 824.5,242.3 833.5,244.8 842.5,248.0 851.5,250.4 860.5,251.0 869.5,252.0 878.5,252.9 887.5,254.4 896.5,255.7 905.5,257.0 914.5,257.5 923.5,256.3 932.5,254.9 941.5,253.3 950.5,252.4 959.5,251.7 968.5,250.5 977.5,249.8 986.5,247.5 995.5,245.3 1004.5,243.9 1013.5,242.8 1022.5,241.6 1031.5,242.3 1040.5,243.2 1049.5,244.3 1058.5,245.3 1067.5,246.0 1076.5,246.3 1085.5,246.8 1094.5,247.4 1103.5,248.6 1112.5,249.4 1121.5,250.9 1130.5,252.1 1139.5,252.7 1148.5,252.9 1157.5,253.0 1166.5,253.1 1175.5,252.9 1184.5,253.1 1193.5,254.0 1202.5,255.8 1211.5,258.7 1220.5,262.5 1229.5,266.5 1238.5,269.6 1247.5,273.1 1256.5,275.5 1265.5,278.3 1274.5,280.6 1283.5,282.7 1292.5,284.4 1301.5,284.7 1310.5,285.0 1319.5,285.3 1328.5,285.6 1337.5,285.5 1346.5,286.2 1355.5,286.0 1364.5,286.0 1373.5,286.0 1382.5,286.1 1391.5,285.3 1400.5,284.4 1409.5,282.9 1418.5,280.7 1427.5,278.3 1436.5,275.4" fill="none" stroke="#e8e800" stroke-width="1.35" stroke-linejoin="round" />
<polyline points="5.5,510.4 14.5,506.6 23.5,504.3 32.5,498.9 41.5,492.9 50.5,490.9 59.5,489.3 68.5,486.6 77.5,483.5 86.5,481.2 95.5,479.6 104.5,479.9 113.5,479.5 122.5,475.8 131.5,469.3 140.5,462.2 149.5,451.5 158.5,442.5 167.5,438.6 176.5,428.3 185.5,419.4 194.5,411.1 203.5,405.2 212.5,395.3 221.5,371.9 230.5,354.2 239.5,337.8 248.5,325.2 257.5,309.5 266.5,293.0 275.5,276.5 284.5,258.0 293.5,241.7 302.5,241.1 311.5,235.1 320.5,226.8 329.5,222.7 338.5,222.8 347.5,220.2 356.5,210.7 365.5,203.4 374.5,197.2 383.5,190.8 392.5,185.2 401.5,186.5 410.5,191.8 419.5,193.8 428.5,198.1 437.5,192.8 446.5,180.6 455.5,169.5 464.5,156.5 473.5,142.5 482.5,130.8 491.5,121.6 500.5,113.5 509.5,111.6 518.5,110.1 527.5,109.9 536.5,102.4 545.5,95.2 554.5,90.3 563.5,84.3 572.5,84.5 581.5,86.2 590.5,87.4 599.5,95.8 608.5,106.6 617.5,117.8 626.5,126.0 635.5,149.2 644.5,167.1 653.5,185.2 662.5,204.6 671.5,212.6 680.5,222.9 689.5,233.3 698.5,237.1 707.5,238.6 716.5,246.8 725.5,254.9 734.5,258.4 743.5,262.6 752.5,269.8 761.5,276.0 770.5,277.6 779.5,277.3 788.5,276.6 797.5,277.0 806.5,277.7 815.5,279.2 824.5,283.1 833.5,286.5 842.5,292.7 851.5,295.4 860.5,290.7 869.5,288.4 878.5,286.2 887.5,287.1 896.5,287.3 905.5,287.5 914.5,284.7 923.5,276.0 932.5,267.3 941.5,259.1 950.5,254.7 959.5,251.5 968.5,246.9 977.5,244.5 986.5,236.4 995.5,229.5 1004.5,226.4 1013.5,224.8 1022.5,223.0 1031.5,228.7 1040.5,234.3 1049.5,239.9 1058.5,244.5 1067.5,247.3 1076.5,248.5 1085.5,250.0 1094.5,251.7 1103.5,256.0 1112.5,257.7 1121.5,262.4 1130.5,265.5 1139.5,265.6 1148.5,264.4 1157.5,263.1 1166.5,261.9 1175.5,259.8 1184.5,259.5 1193.5,262.0 1202.5,268.0 1211.5,277.4 1220.5,289.6 1229.5,300.8 1238.5,307.8 1247.5,315.7 1256.5,318.6 1265.5,322.7 1274.5,324.9 1283.5,326.4 1292.5,326.4 1301.5,321.1 1310.5,316.9 1319.5,313.1 1328.5,309.9 1337.5,305.7 1346.5,305.4 1355.5,301.6 1364.5,299.1 1373.5,297.1 1382.5,295.9 1391.5,291.3 1400.5,286.9 1409.5,280.6 1418.5,272.4 1427.5,264.2 1436.5,254.9" fill="none" stroke="#d4d4d4" stroke-width="1.35" stroke-linejoin="round" />
<rect x="3.75" y="671.55" width="3.5" height="39.10" fill="none" stroke="#f03c3c" stroke-width="1.5"/><rect x="12.75" y="673.95" width="3.5" height="36.70" fill="none" stroke="#f03c3c" stroke-width="1.5"/><rect x="21.0" y="673.2" width="5" height="38.20" fill="#00ffff"/><rect x="30.75" y="663.75" width="3.5" height="46.90" fill="none" stroke="#f03c3c" stroke-width="1.5"/><rect x="39.75" y="671.55" width="3.5" height="39.10" fill="none" stroke="#f03c3c" stroke-width="1.5"/><rect x="48.0" y="670.8" width="5" height="40.60" fill="#00ffff"/><rect x="57.75" y="678.75" width="3.5" height="31.90" fill="none" stroke="#f03c3c" stroke-width="1.5"/><rect x="66.75" y="673.55" width="3.5" height="37.10" fill="none" stroke="#f03c3c" stroke-width="1.5"/><rect x="75.75" y="671.55" width="3.5" height="39.10" fill="none" stroke="#f03c3c" stroke-width="1.5"/><rect x="84.0" y="673.6" width="5" height="37.80" fill="#00ffff"/><rect x="93.75" y="674.95" width="3.5" height="35.70" fill="none" stroke="#f03c3c" stroke-width="1.5"/><rect x="102.0" y="679.4" width="5" height="32.00" fill="#00ffff"/><rect x="111.75" y="675.45" width="3.5" height="35.20" fill="none" stroke="#f03c3c" stroke-width="1.5"/><rect x="120.75" y="678.75" width="3.5" height="31.90" fill="none" stroke="#f03c3c" stroke-width="1.5"/><rect x="129.75" y="672.95" width="3.5" height="37.70" fill="none" stroke="#f03c3c" stroke-width="1.5"/><rect x="138.75" y="665.15" width="3.5" height="45.50" fill="none" stroke="#f03c3c" stroke-width="1.5"/><rect x="147.75" y="650.45" width="3.5" height="60.20" fill="none" stroke="#f03c3c" stroke-width="1.5"/><rect x="156.75" y="662.55" width="3.5" height="48.10" fill="none" stroke="#f03c3c" stroke-width="1.5"/><rect x="165.0" y="662.4" width="5" height="49.00" fill="#00ffff"/><rect x="174.75" y="647.35" width="3.5" height="63.30" fill="none" stroke="#f03c3c" stroke-width="1.5"/><rect x="183.0" y="639.1" width="5" height="72.30" fill="#00ffff"/><rect x="192.75" y="650.65" width="3.5" height="60.00" fill="none" stroke="#f03c3c" stroke-width="1.5"/><rect x="201.0" y="636.1" width="5" height="75.30" fill="#00ffff"/><rect x="210.75" y="637.15" width="3.5" height="73.50" fill="none" stroke="#f03c3c" stroke-width="1.5"/><rect x="219.75" y="581.35" width="3.5" height="129.30" fill="none" stroke="#f03c3c" stroke-width="1.5"/><rect x="228.0" y="571.5" width="5" height="139.90" fill="#00ffff"/><rect x="237.75" y="594.75" width="3.5" height="115.90" fill="none" stroke="#f03c3c" stroke-width="1.5"/><rect x="246.0" y="624.4" width="5" height="87.00" fill="#00ffff"/><rect x="255.75" y="626.45" width="3.5" height="84.20" fill="none" stroke="#f03c3c" stroke-width="1.5"/><rect x="264.75" y="581.35" width="3.5" height="129.30" fill="none" stroke="#f03c3c" stroke-width="1.5"/><rect x="273.75" y="606.75" width="3.5" height="103.90" fill="none" stroke="#f03c3c" stroke-width="1.5"/><rect x="282.75" y="575.05" width="3.5" height="135.60" fill="none" stroke="#f03c3c" stroke-width="1.5"/><rect x="291.75" y="567.95" width="3.5" height="142.70" fill="none" stroke="#f03c3c" stroke-width="1.5"/><rect x="300.0" y="568.4" width="5" height="143.00" fill="#00ffff"/><rect x="309.75" y="606.75" width="3.5" height="103.90" fill="none" stroke="#f03c3c" stroke-width="1.5"/><rect x="318.75" y="585.75" width="3.5" height="124.90" fill="none" stroke="#f03c3c" stroke-width="1.5"/><rect x="327.0" y="598.3" width="5" height="113.10" fill="#00ffff"/><rect x="336.0" y="618" width="5" height="93.40" fill="#00ffff"/><rect x="345.75" y="627.75" width="3.5" height="82.90" fill="none" stroke="#f03c3c" stroke-width="1.5"/><rect x="354.75" y="612.75" width="3.5" height="97.90" fill="none" stroke="#f03c3c" stroke-width="1.5"/><rect x="363.0" y="623.9" width="5" height="87.50" fill="#00ffff"/><rect x="372.75" y="623.45" width="3.5" height="87.20" fill="none" stroke="#f03c3c" stroke-width="1.5"/><rect x="381.75" y="609.45" width="3.5" height="101.20" fill="none" stroke="#f03c3c" stroke-width="1.5"/><rect x="390.75" y="621.95" width="3.5" height="88.70" fill="none" stroke="#f03c3c" stroke-width="1.5"/><rect x="399.0" y="616.7" width="5" height="94.70" fill="#00ffff"/><rect x="408.0" y="623.9" width="5" height="87.50" fill="#00ffff"/><rect x="417.75" y="639.85" width="3.5" height="70.80" fill="none" stroke="#f03c3c" stroke-width="1.5"/><rect x="426.0" y="639.1" width="5" height="72.30" fill="#00ffff"/><rect x="435.75" y="618.75" width="3.5" height="91.90" fill="none" stroke="#f03c3c" stroke-width="1.5"/><rect x="444.75" y="596.55" width="3.5" height="114.10" fill="none" stroke="#f03c3c" stroke-width="1.5"/><rect x="453.0" y="600.1" width="5" height="111.30" fill="#00ffff"/><rect x="462.75" y="605.35" width="3.5" height="105.30" fill="none" stroke="#f03c3c" stroke-width="1.5"/><rect x="471.75" y="596.55" width="3.5" height="114.10" fill="none" stroke="#f03c3c" stroke-width="1.5"/><rect x="480.0" y="586.5" width="5" height="124.90" fill="#00ffff"/><rect x="489.0" y="621.2" width="5" height="90.20" fill="#00ffff"/><rect x="498.75" y="617.45" width="3.5" height="93.20" fill="none" stroke="#f03c3c" stroke-width="1.5"/><rect x="507.0" y="623.9" width="5" height="87.50" fill="#00ffff"/><rect x="516.75" y="639.85" width="3.5" height="70.80" fill="none" stroke="#f03c3c" stroke-width="1.5"/><rect x="525.0" y="623.9" width="5" height="87.50" fill="#00ffff"/><rect x="534.75" y="623.45" width="3.5" height="87.20" fill="none" stroke="#f03c3c" stroke-width="1.5"/><rect x="543.75" y="623.45" width="3.5" height="87.20" fill="none" stroke="#f03c3c" stroke-width="1.5"/><rect x="552.0" y="629.8" width="5" height="81.60" fill="#00ffff"/><rect x="561.75" y="633.95" width="3.5" height="76.70" fill="none" stroke="#f03c3c" stroke-width="1.5"/><rect x="570.0" y="623.9" width="5" height="87.50" fill="#00ffff"/><rect x="579.0" y="629.8" width="5" height="81.60" fill="#00ffff"/><rect x="588.0" y="642.2" width="5" height="69.20" fill="#00ffff"/><rect x="597.0" y="631.6" width="5" height="79.80" fill="#00ffff"/><rect x="606.0" y="640.5" width="5" height="70.90" fill="#00ffff"/><rect x="615.0" y="638.8" width="5" height="72.60" fill="#00ffff"/><rect x="624.75" y="656.35" width="3.5" height="54.30" fill="none" stroke="#f03c3c" stroke-width="1.5"/><rect x="633.0" y="629.8" width="5" height="81.60" fill="#00ffff"/><rect x="642.75" y="648.85" width="3.5" height="61.80" fill="none" stroke="#f03c3c" stroke-width="1.5"/><rect x="651.75" y="653.25" width="3.5" height="57.40" fill="none" stroke="#f03c3c" stroke-width="1.5"/><rect x="660.0" y="661.5" width="5" height="49.90" fill="#00ffff"/><rect x="669.75" y="641.25" width="3.5" height="69.40" fill="none" stroke="#f03c3c" stroke-width="1.5"/><rect x="678.0" y="658.4" width="5" height="53.00" fill="#00ffff"/><rect x="687.75" y="659.15" width="3.5" height="51.50" fill="none" stroke="#f03c3c" stroke-width="1.5"/><rect x="696.75" y="656.35" width="3.5" height="54.30" fill="none" stroke="#f03c3c" stroke-width="1.5"/><rect x="705.75" y="650.25" width="3.5" height="60.40" fill="none" stroke="#f03c3c" stroke-width="1.5"/><rect x="714.0" y="644.8" width="5" height="66.60" fill="#00ffff"/><rect x="723.0" y="658.4" width="5" height="53.00" fill="#00ffff"/><rect x="732.75" y="659.15" width="3.5" height="51.50" fill="none" stroke="#f03c3c" stroke-width="1.5"/><rect x="741.0" y="661.5" width="5" height="49.90" fill="#00ffff"/><rect x="750.0" y="661.5" width="5" height="49.90" fill="#00ffff"/><rect x="759.75" y="669.75" width="3.5" height="40.90" fill="none" stroke="#f03c3c" stroke-width="1.5"/><rect x="768.75" y="663.15" width="3.5" height="47.50" fill="none" stroke="#f03c3c" stroke-width="1.5"/><rect x="777.75" y="656.35" width="3.5" height="54.30" fill="none" stroke="#f03c3c" stroke-width="1.5"/><rect x="786.75" y="663.15" width="3.5" height="47.50" fill="none" stroke="#f03c3c" stroke-width="1.5"/><rect x="795.75" y="661.35" width="3.5" height="49.30" fill="none" stroke="#f03c3c" stroke-width="1.5"/><rect x="804.0" y="660.6" width="5" height="50.80" fill="#00ffff"/><rect x="813.0" y="657.4" width="5" height="54.00" fill="#00ffff"/><rect x="822.0" y="661.5" width="5" height="49.90" fill="#00ffff"/><rect x="831.0" y="666" width="5" height="45.40" fill="#00ffff"/><rect x="840.0" y="666" width="5" height="45.40" fill="#00ffff"/><rect x="849.75" y="669.75" width="3.5" height="40.90" fill="none" stroke="#f03c3c" stroke-width="1.5"/><rect x="858.75" y="647.35" width="3.5" height="63.30" fill="none" stroke="#f03c3c" stroke-width="1.5"/><rect x="867.0" y="651.1" width="5" height="60.30" fill="#00ffff"/><rect x="876.75" y="658.15" width="3.5" height="52.50" fill="none" stroke="#f03c3c" stroke-width="1.5"/><rect x="885.0" y="656.1" width="5" height="55.30" fill="#00ffff"/><rect x="894.75" y="672.95" width="3.5" height="37.70" fill="none" stroke="#f03c3c" stroke-width="1.5"/><rect x="903.0" y="673.5" width="5" height="37.90" fill="#00ffff"/><rect x="912.0" y="654" width="5" height="57.40" fill="#00ffff"/><rect x="921.75" y="639.85" width="3.5" height="70.80" fill="none" stroke="#f03c3c" stroke-width="1.5"/><rect x="930.75" y="639.85" width="3.5" height="70.80" fill="none" stroke="#f03c3c" stroke-width="1.5"/><rect x="939.75" y="659.15" width="3.5" height="51.50" fill="none" stroke="#f03c3c" stroke-width="1.5"/><rect x="948.0" y="648.1" width="5" height="63.30" fill="#00ffff"/><rect x="957.75" y="668.15" width="3.5" height="42.50" fill="none" stroke="#f03c3c" stroke-width="1.5"/><rect x="966.75" y="662.25" width="3.5" height="48.40" fill="none" stroke="#f03c3c" stroke-width="1.5"/><rect x="975.0" y="666" width="5" height="45.40" fill="#00ffff"/><rect x="984.75" y="648.85" width="3.5" height="61.80" fill="none" stroke="#f03c3c" stroke-width="1.5"/><rect x="993.75" y="658.15" width="3.5" height="52.50" fill="none" stroke="#f03c3c" stroke-width="1.5"/><rect x="1002.0" y="658.4" width="5" height="53.00" fill="#00ffff"/><rect x="1011.0" y="661.5" width="5" height="49.90" fill="#00ffff"/><rect x="1020.75" y="672.95" width="3.5" height="37.70" fill="none" stroke="#f03c3c" stroke-width="1.5"/><rect x="1029.0" y="658.4" width="5" height="53.00" fill="#00ffff"/><rect x="1038.0" y="673.5" width="5" height="37.90" fill="#00ffff"/><rect x="1047.0" y="676.3" width="5" height="35.10" fill="#00ffff"/><rect x="1056.0" y="674.9" width="5" height="36.50" fill="#00ffff"/><rect x="1065.75" y="677.05" width="3.5" height="33.60" fill="none" stroke="#f03c3c" stroke-width="1.5"/><rect x="1074.75" y="669.75" width="3.5" height="40.90" fill="none" stroke="#f03c3c" stroke-width="1.5"/><rect x="1083.0" y="678" width="5" height="33.40" fill="#00ffff"/><rect x="1092.0" y="674.6" width="5" height="36.80" fill="#00ffff"/><rect x="1101.0" y="674.6" width="5" height="36.80" fill="#00ffff"/><rect x="1110.75" y="675.35" width="3.5" height="35.30" fill="none" stroke="#f03c3c" stroke-width="1.5"/><rect x="1119.0" y="666" width="5" height="45.40" fill="#00ffff"/><rect x="1128.75" y="678.85" width="3.5" height="31.80" fill="none" stroke="#f03c3c" stroke-width="1.5"/><rect x="1137.75" y="675.35" width="3.5" height="35.30" fill="none" stroke="#f03c3c" stroke-width="1.5"/><rect x="1146.75" y="675.35" width="3.5" height="35.30" fill="none" stroke="#f03c3c" stroke-width="1.5"/><rect x="1155.75" y="675.75" width="3.5" height="34.90" fill="none" stroke="#f03c3c" stroke-width="1.5"/><rect x="1164.0" y="678.1" width="5" height="33.30" fill="#00ffff"/><rect x="1173.75" y="677.05" width="3.5" height="33.60" fill="none" stroke="#f03c3c" stroke-width="1.5"/><rect x="1182.0" y="676.3" width="5" height="35.10" fill="#00ffff"/><rect x="1191.0" y="676.3" width="5" height="35.10" fill="#00ffff"/><rect x="1200.75" y="665.25" width="3.5" height="45.40" fill="none" stroke="#f03c3c" stroke-width="1.5"/><rect x="1209.0" y="669" width="5" height="42.40" fill="#00ffff"/><rect x="1218.75" y="653.25" width="3.5" height="57.40" fill="none" stroke="#f03c3c" stroke-width="1.5"/><rect x="1227.0" y="671.7" width="5" height="39.70" fill="#00ffff"/><rect x="1236.75" y="674.25" width="3.5" height="36.40" fill="none" stroke="#f03c3c" stroke-width="1.5"/><rect x="1245.0" y="673.5" width="5" height="37.90" fill="#00ffff"/><rect x="1254.75" y="678.75" width="3.5" height="31.90" fill="none" stroke="#f03c3c" stroke-width="1.5"/><rect x="1263.0" y="678" width="5" height="33.40" fill="#00ffff"/><rect x="1272.0" y="676.3" width="5" height="35.10" fill="#00ffff"/><rect x="1281.75" y="672.95" width="3.5" height="37.70" fill="none" stroke="#f03c3c" stroke-width="1.5"/><rect x="1290.75" y="673.85" width="3.5" height="36.80" fill="none" stroke="#f03c3c" stroke-width="1.5"/><rect x="1299.75" y="657.75" width="3.5" height="52.90" fill="none" stroke="#f03c3c" stroke-width="1.5"/><rect x="1308.75" y="664.05" width="3.5" height="46.60" fill="none" stroke="#f03c3c" stroke-width="1.5"/><rect x="1317.75" y="671.75" width="3.5" height="38.90" fill="none" stroke="#f03c3c" stroke-width="1.5"/><rect x="1326.0" y="673.1" width="5" height="38.30" fill="#00ffff"/><rect x="1335.75" y="672.05" width="3.5" height="38.60" fill="none" stroke="#f03c3c" stroke-width="1.5"/><rect x="1344.75" y="668.85" width="3.5" height="41.80" fill="none" stroke="#f03c3c" stroke-width="1.5"/><rect x="1353.75" y="659.15" width="3.5" height="51.50" fill="none" stroke="#f03c3c" stroke-width="1.5"/><rect x="1362.0" y="664.2" width="5" height="47.20" fill="#00ffff"/><rect x="1371.0" y="666.9" width="5" height="44.50" fill="#00ffff"/><rect x="1380.0" y="663.3" width="5" height="48.10" fill="#00ffff"/><rect x="1389.75" y="660.75" width="3.5" height="49.90" fill="none" stroke="#f03c3c" stroke-width="1.5"/><rect x="1398.75" y="664.05" width="3.5" height="46.60" fill="none" stroke="#f03c3c" stroke-width="1.5"/><rect x="1407.75" y="654.75" width="3.5" height="55.90" fill="none" stroke="#f03c3c" stroke-width="1.5"/><rect x="1416.75" y="635.35" width="3.5" height="75.30" fill="none" stroke="#f03c3c" stroke-width="1.5"/><rect x="1425.75" y="658.15" width="3.5" height="52.50" fill="none" stroke="#f03c3c" stroke-width="1.5"/><rect x="1434.75" y="650.25" width="3.5" height="60.40" fill="none" stroke="#f03c3c" stroke-width="1.5"/>
<polyline points="5.5,671.9 14.5,672.0 23.5,672.1 32.5,671.2 41.5,671.1 50.5,671.0 59.5,671.6 68.5,671.7 77.5,671.5 86.5,671.7 95.5,672.0 104.5,672.7 113.5,672.8 122.5,674.3 131.5,674.4 140.5,673.8 149.5,671.0 158.5,669.9 167.5,669.0 176.5,666.3 185.5,662.8 194.5,659.9 203.5,656.0 212.5,651.9 221.5,642.7 230.5,633.4 239.5,627.8 248.5,624.1 257.5,620.4 266.5,613.8 275.5,610.5 284.5,603.0 293.5,596.1 302.5,589.3 311.5,591.8 320.5,593.2 329.5,593.6 338.5,593.0 347.5,593.1 356.5,596.2 365.5,598.0 374.5,602.8 383.5,607.0 392.5,612.3 401.5,613.4 410.5,617.2 419.5,621.3 428.5,623.4 437.5,622.5 446.5,620.9 455.5,618.5 464.5,616.7 473.5,615.4 482.5,612.0 491.5,612.4 500.5,611.7 509.5,610.2 518.5,610.2 527.5,610.8 536.5,613.4 545.5,615.7 554.5,618.2 563.5,622.0 572.5,625.7 581.5,626.6 590.5,629.1 599.5,629.9 608.5,630.0 617.5,631.5 626.5,634.8 635.5,635.5 644.5,637.4 653.5,639.3 662.5,643.0 671.5,644.1 680.5,645.7 689.5,648.4 698.5,649.9 707.5,651.0 716.5,649.9 725.5,652.8 734.5,653.8 743.5,654.7 752.5,654.7 761.5,657.5 770.5,658.0 779.5,657.7 788.5,658.4 797.5,659.5 806.5,661.0 815.5,660.9 824.5,661.2 833.5,661.7 842.5,662.1 851.5,662.1 860.5,660.6 869.5,660.1 878.5,659.6 887.5,659.2 896.5,660.3 905.5,661.9 914.5,661.2 923.5,658.5 932.5,655.8 941.5,654.8 950.5,654.9 959.5,656.5 968.5,656.9 977.5,657.9 986.5,655.5 995.5,653.9 1004.5,654.3 1013.5,656.6 1022.5,659.9 1031.5,659.9 1040.5,662.4 1049.5,663.3 1058.5,664.7 1067.5,665.7 1076.5,667.8 1085.5,669.9 1094.5,671.5 1103.5,672.8 1112.5,673.0 1121.5,673.8 1130.5,674.2 1139.5,674.1 1148.5,674.0 1157.5,673.9 1166.5,674.8 1175.5,674.7 1184.5,674.8 1193.5,675.0 1202.5,674.0 1211.5,674.3 1220.5,671.7 1229.5,671.4 1238.5,671.3 1247.5,671.2 1256.5,671.2 1265.5,671.3 1274.5,671.3 1283.5,670.9 1292.5,671.8 1301.5,670.6 1310.5,671.7 1319.5,671.6 1328.5,671.6 1337.5,671.3 1346.5,670.3 1355.5,668.4 1364.5,667.2 1373.5,666.6 1382.5,665.7 1391.5,666.0 1400.5,666.0 1409.5,664.3 1418.5,660.4 1427.5,659.0 1436.5,657.2" fill="none" stroke="#e8e800" stroke-width="1.35" stroke-linejoin="round" />
<polyline points="5.5,671.8 14.5,672.0 23.5,672.2 32.5,670.4 41.5,670.2 50.5,670.2 59.5,671.2 68.5,671.1 77.5,672.6 86.5,673.2 95.5,673.9 104.5,674.2 113.5,674.5 122.5,676.0 131.5,675.7 140.5,673.7 149.5,667.8 158.5,665.2 167.5,662.1 176.5,657.0 185.5,651.9 194.5,652.0 203.5,646.8 212.5,641.6 221.5,628.4 230.5,614.9 239.5,603.7 248.5,601.4 257.5,599.2 266.5,599.2 275.5,606.1 284.5,602.2 293.5,590.8 302.5,579.3 311.5,584.4 320.5,580.2 329.5,585.0 338.5,595.1 347.5,606.9 356.5,608.1 365.5,615.8 374.5,620.7 383.5,618.9 392.5,617.7 401.5,618.6 410.5,618.6 419.5,621.9 428.5,628.0 437.5,627.4 446.5,623.2 455.5,618.4 464.5,611.5 473.5,602.9 482.5,596.6 491.5,601.6 500.5,605.0 509.5,608.8 518.5,617.5 527.5,625.0 536.5,625.3 545.5,626.5 554.5,627.6 563.5,626.5 572.5,626.5 581.5,627.9 590.5,631.8 599.5,632.1 608.5,633.6 617.5,636.6 626.5,641.7 635.5,639.3 644.5,642.6 653.5,645.0 662.5,649.5 671.5,646.5 680.5,652.2 689.5,654.3 698.5,654.9 707.5,652.5 716.5,653.3 725.5,653.3 734.5,653.3 743.5,654.5 752.5,656.9 761.5,661.8 770.5,662.6 779.5,662.0 788.5,662.2 797.5,662.0 806.5,660.3 815.5,659.3 824.5,660.5 833.5,661.2 842.5,662.3 851.5,664.0 860.5,661.8 869.5,659.7 878.5,658.0 887.5,656.0 896.5,656.7 905.5,662.1 914.5,662.6 923.5,659.0 932.5,655.6 941.5,652.8 950.5,647.7 959.5,650.4 968.5,654.9 977.5,660.3 986.5,658.2 995.5,660.1 1004.5,658.3 1013.5,658.3 1022.5,659.5 1031.5,661.6 1040.5,664.8 1049.5,668.4 1058.5,671.1 1067.5,671.9 1076.5,674.0 1085.5,674.9 1094.5,674.6 1103.5,674.5 1112.5,674.2 1121.5,673.6 1130.5,673.6 1139.5,673.6 1148.5,673.6 1157.5,673.7 1166.5,676.1 1175.5,675.7 1184.5,676.1 1193.5,676.4 1202.5,674.3 1211.5,672.5 1220.5,667.7 1229.5,666.8 1238.5,666.2 1247.5,668.0 1256.5,669.8 1265.5,674.9 1274.5,675.9 1283.5,675.6 1292.5,675.5 1301.5,671.3 1310.5,668.4 1319.5,667.3 1328.5,667.5 1337.5,667.1 1346.5,669.4 1355.5,668.4 1364.5,667.0 1373.5,665.8 1382.5,664.2 1391.5,662.6 1400.5,663.5 1409.5,661.5 1418.5,655.0 1427.5,653.9 1436.5,651.8" fill="none" stroke="#d4d4d4" stroke-width="1.35" stroke-linejoin="round" />
<polyline points="5.5,788.0 14.5,782.7 23.5,781.6 32.5,779.3 41.5,777.1 50.5,779.6 59.5,783.1 68.5,785.8 77.5,786.5 86.5,789.4 95.5,793.3 104.5,800.6 113.5,807.4 122.5,807.1 131.5,801.6 140.5,794.2 149.5,787.3 158.5,781.4 167.5,779.8 176.5,776.6 185.5,774.5 194.5,772.9 203.5,773.3 212.5,771.7 221.5,769.5 230.5,769.4 239.5,769.7 248.5,770.8 257.5,769.9 266.5,770.3 275.5,770.4 284.5,769.0 293.5,768.0 302.5,775.8 311.5,783.4 320.5,788.0 329.5,792.8 338.5,801.3 347.5,808.3 356.5,808.1 365.5,805.2 374.5,800.7 383.5,795.5 392.5,790.5 401.5,791.1 410.5,798.0 419.5,805.7 428.5,815.6 437.5,816.5 446.5,810.7 455.5,803.2 464.5,794.8 473.5,787.2 482.5,782.1 491.5,778.9 500.5,776.8 509.5,777.8 518.5,782.7 527.5,792.1 536.5,795.1 545.5,794.1 554.5,792.6 563.5,788.4 572.5,789.5 581.5,794.3 590.5,800.0 599.5,810.1 608.5,821.2 617.5,830.6 626.5,837.5 635.5,843.2 644.5,847.1 653.5,850.5 662.5,853.9 671.5,853.5 680.5,852.3 689.5,851.5 698.5,848.1 707.5,839.2 716.5,834.0 725.5,832.2 734.5,828.5 743.5,825.6 752.5,827.5 761.5,831.4 770.5,831.5 779.5,828.2 788.5,823.3 797.5,817.5 806.5,812.6 815.5,809.9 824.5,811.7 833.5,815.5 842.5,822.7 851.5,827.5 860.5,822.7 869.5,815.5 878.5,807.6 887.5,803.7 896.5,801.3 905.5,799.9 914.5,797.9 923.5,793.2 932.5,787.8 941.5,782.4 950.5,779.9 959.5,779.5 968.5,778.3 977.5,778.2 986.5,776.1 995.5,773.3 1004.5,774.3 1013.5,778.1 1022.5,782.2 1031.5,792.2 1040.5,804.0 1049.5,815.9 1058.5,826.2 1067.5,833.4 1076.5,836.2 1085.5,836.7 1094.5,836.1 1103.5,837.8 1112.5,835.1 1121.5,836.4 1130.5,837.4 1139.5,833.7 1148.5,826.0 1157.5,815.5 1166.5,805.5 1175.5,797.1 1184.5,792.7 1193.5,794.9 1202.5,802.2 1211.5,812.9 1220.5,821.5 1229.5,828.6 1238.5,833.0 1247.5,836.7 1256.5,837.3 1265.5,837.0 1274.5,833.6 1283.5,828.2 1292.5,819.4 1301.5,808.7 1310.5,799.1 1319.5,791.0 1328.5,784.5 1337.5,778.6 1346.5,776.7 1355.5,775.1 1364.5,775.1 1373.5,776.8 1382.5,780.6 1391.5,780.1 1400.5,777.5 1409.5,774.1 1418.5,772.8 1427.5,771.7 1436.5,769.7" fill="none" stroke="#e8e800" stroke-width="1.35" stroke-linejoin="round" />
<polyline points="5.5,778.4 14.5,772.2 23.5,779.4 32.5,774.6 41.5,772.8 50.5,784.6 59.5,790.1 68.5,791.3 77.5,787.9 86.5,795.1 95.5,801.0 104.5,815.4 113.5,820.9 122.5,806.7 131.5,790.5 140.5,779.6 149.5,773.3 158.5,769.8 167.5,776.4 176.5,770.2 185.5,770.5 194.5,769.7 203.5,774.0 212.5,768.6 221.5,765.0 230.5,769.2 239.5,770.3 248.5,773.0 257.5,768.2 266.5,771.2 275.5,770.4 284.5,766.2 293.5,765.9 302.5,791.6 311.5,798.5 320.5,797.2 329.5,802.3 338.5,818.2 347.5,822.4 356.5,807.6 365.5,799.5 374.5,791.7 383.5,785.1 392.5,780.3 401.5,792.5 410.5,811.6 419.5,821.3 428.5,835.2 437.5,818.4 446.5,799.1 455.5,788.2 464.5,778.1 473.5,772.0 482.5,771.8 491.5,772.6 500.5,772.7 509.5,779.7 518.5,792.6 527.5,810.9 536.5,801.2 545.5,792.0 554.5,789.5 563.5,780.2 572.5,791.6 581.5,803.9 590.5,811.3 599.5,830.5 608.5,843.2 617.5,849.4 626.5,851.3 635.5,854.6 644.5,855.0 653.5,857.1 662.5,860.6 671.5,852.8 680.5,850.0 689.5,849.9 698.5,841.3 707.5,821.4 716.5,823.6 725.5,828.6 734.5,821.0 743.5,820.0 752.5,831.4 761.5,839.2 770.5,831.7 779.5,821.6 788.5,813.4 797.5,806.0 806.5,802.7 815.5,804.5 824.5,815.2 833.5,823.2 842.5,837.0 851.5,837.1 860.5,813.3 869.5,801.0 878.5,791.7 887.5,796.1 896.5,796.5 905.5,797.0 914.5,793.8 923.5,783.9 932.5,777.0 941.5,771.6 950.5,775.0 959.5,778.8 968.5,775.8 977.5,778.1 986.5,771.8 995.5,767.8 1004.5,776.2 1013.5,785.7 1022.5,790.4 1031.5,812.2 1040.5,827.7 1049.5,839.6 1058.5,846.9 1067.5,847.9 1076.5,841.7 1085.5,837.6 1094.5,834.9 1103.5,841.3 1112.5,829.8 1121.5,838.9 1130.5,839.4 1139.5,826.4 1148.5,810.4 1157.5,794.6 1166.5,785.6 1175.5,780.3 1184.5,783.9 1193.5,799.2 1202.5,817.0 1211.5,834.2 1220.5,838.6 1229.5,842.9 1238.5,841.7 1247.5,844.3 1256.5,838.3 1265.5,836.5 1274.5,826.6 1283.5,817.6 1292.5,801.8 1301.5,787.2 1310.5,780.0 1319.5,774.8 1328.5,771.4 1337.5,766.9 1346.5,773.1 1355.5,771.7 1364.5,775.3 1373.5,780.0 1382.5,788.4 1391.5,779.2 1400.5,772.1 1409.5,767.3 1418.5,770.2 1427.5,769.4 1436.5,765.8" fill="none" stroke="#d4d4d4" stroke-width="1.35" stroke-linejoin="round" />
<polyline points="5.5,759.4 14.5,751.2 23.5,775.1 32.5,765.1 41.5,764.1 50.5,794.5 59.5,804.1 68.5,802.3 77.5,790.6 86.5,806.5 95.5,816.6 104.5,844.8 113.5,847.9 122.5,805.7 131.5,768.2 140.5,750.2 149.5,745.4 158.5,746.5 167.5,769.6 176.5,757.4 185.5,762.5 194.5,763.1 203.5,775.5 212.5,762.4 221.5,756.1 230.5,768.8 239.5,771.6 248.5,777.3 257.5,764.7 266.5,772.9 275.5,770.6 284.5,760.7 293.5,761.7 302.5,823.2 311.5,828.6 320.5,815.7 329.5,821.4 338.5,852.2 347.5,850.7 356.5,806.6 365.5,788.0 374.5,773.8 383.5,764.3 392.5,760.1 401.5,795.2 410.5,838.9 419.5,852.4 428.5,874.6 437.5,822.1 446.5,775.9 455.5,758.2 464.5,744.6 473.5,741.5 482.5,751.2 491.5,759.9 500.5,764.5 509.5,783.6 518.5,812.2 527.5,848.4 536.5,813.3 545.5,787.9 554.5,783.4 563.5,763.7 572.5,795.8 581.5,823.2 590.5,833.9 599.5,871.1 608.5,887.4 617.5,887.2 626.5,879.0 635.5,877.3 644.5,870.9 653.5,870.5 662.5,874.1 671.5,851.4 680.5,845.4 689.5,846.7 698.5,827.7 707.5,785.8 716.5,802.8 725.5,821.3 734.5,805.9 743.5,808.7 752.5,839.1 761.5,854.8 770.5,832.0 779.5,808.4 788.5,793.6 797.5,783.0 806.5,783.0 815.5,793.6 824.5,822.3 833.5,838.5 842.5,865.7 851.5,856.5 860.5,794.3 869.5,771.9 878.5,760.1 887.5,780.7 896.5,786.8 905.5,791.4 914.5,785.7 923.5,765.3 932.5,755.4 941.5,749.9 950.5,765.1 959.5,777.2 968.5,770.9 977.5,778.0 986.5,763.3 995.5,756.8 1004.5,779.9 1013.5,801.0 1022.5,806.8 1031.5,852.3 1040.5,874.9 1049.5,887.1 1058.5,888.1 1067.5,876.8 1076.5,852.6 1085.5,839.5 1094.5,832.6 1103.5,848.3 1112.5,819.1 1121.5,843.9 1130.5,843.4 1139.5,811.7 1148.5,779.3 1157.5,752.7 1166.5,745.8 1175.5,746.6 1184.5,766.2 1193.5,807.9 1202.5,846.4 1211.5,876.9 1220.5,872.8 1229.5,871.5 1238.5,859.0 1247.5,859.3 1256.5,840.5 1265.5,835.5 1274.5,812.8 1283.5,796.4 1292.5,766.6 1301.5,744.1 1310.5,741.7 1319.5,742.3 1328.5,745.2 1337.5,743.5 1346.5,765.7 1355.5,764.9 1364.5,775.7 1373.5,786.5 1382.5,803.8 1391.5,777.3 1400.5,761.3 1409.5,753.8 1418.5,764.9 1427.5,765.0 1436.5,758.1" fill="none" stroke="#ff00ff" stroke-width="1.35" stroke-linejoin="round" />
<polygon points="22.3,459.6 26.7,459.6 26.7,466.8 31.3,466.8 24.5,474.4 17.7,466.8 22.3,466.8" fill="none" stroke="#00ff00" stroke-width="1.5"/>
<polygon points="49.3,443.0 53.7,443.0 53.7,450.2 58.3,450.2 51.5,457.8 44.7,450.2 49.3,450.2" fill="none" stroke="#00ff00" stroke-width="1.5"/>
<polygon points="94.3,447.6 98.7,447.6 98.7,454.8 103.3,454.8 96.5,462.4 89.7,454.8 94.3,454.8" fill="none" stroke="#00ff00" stroke-width="1.5"/>
<polygon points="301.3,153.6 305.7,153.6 305.7,160.8 310.3,160.8 303.5,168.4 296.7,160.8 301.3,160.8" fill="none" stroke="#00ff00" stroke-width="1.5"/>
<polygon points="373.3,137.1 377.7,137.1 377.7,144.3 382.3,144.3 375.5,151.9 368.7,144.3 373.3,144.3" fill="none" stroke="#00ff00" stroke-width="1.5"/>
<polygon points="391.3,133.7 395.7,133.7 395.7,140.9 400.3,140.9 393.5,148.5 386.7,140.9 391.3,140.9" fill="none" stroke="#00ff00" stroke-width="1.5"/>
<polygon points="949.3,197.1 953.7,197.1 953.7,204.3 958.3,204.3 951.5,211.9 944.7,204.3 949.3,204.3" fill="none" stroke="#00ff00" stroke-width="1.5"/>
<polygon points="1003.3,180.8 1007.7,180.8 1007.7,188.0 1012.3,188.0 1005.5,195.6 998.7,188.0 1003.3,188.0" fill="none" stroke="#00ff00" stroke-width="1.5"/>
<polygon points="1183.3,234.4 1187.7,234.4 1187.7,241.6 1192.3,241.6 1185.5,249.2 1178.7,241.6 1183.3,241.6" fill="none" stroke="#00ff00" stroke-width="1.5"/>
<polygon points="1363.3,258.3 1367.7,258.3 1367.7,265.5 1372.3,265.5 1365.5,273.1 1358.7,265.5 1363.3,265.5" fill="none" stroke="#00ff00" stroke-width="1.5"/>
<polygon points="1345.3,280.8 1349.7,280.8 1349.7,288.0 1354.3,288.0 1347.5,295.6 1340.7,288.0 1345.3,288.0" fill="none" stroke="#00ff00" stroke-width="1.5"/>
<clipPath id="cpa"><rect x="480" y="39.7" width="40" height="20"/></clipPath>
<g clip-path="url(#cpa)"><polygon points="499.3,37.0 503.7,37.0 503.7,44.2 508.3,44.2 501.5,51.8 494.7,44.2 499.3,44.2" fill="none" stroke="#00ff00" stroke-width="1.5"/></g>
<polygon points="1408.3,162.6 1412.7,162.6 1412.7,169.8 1417.3,169.8 1410.5,177.4 1403.7,169.8 1408.3,169.8" fill="#00ff00" stroke="#00ff00" stroke-width="1"/>
<polygon points="167.0,452.4 170.0,452.4 175.9,458.4 175.9,461.6 171.7,461.6 171.7,469.1 165.3,469.1 165.3,461.6 161.1,461.6 161.1,458.4" fill="#ff0000"/>
<polygon points="599.0,180.0 602.0,180.0 607.9,186.0 607.9,189.2 603.7,189.2 603.7,196.7 597.3,196.7 597.3,189.2 593.1,189.2 593.1,186.0" fill="#ff0000"/>
<polygon points="671.0,321.8 674.0,321.8 679.9,327.8 679.9,331.0 675.7,331.0 675.7,338.5 669.3,338.5 669.3,331.0 665.1,331.0 665.1,327.8" fill="#ff0000"/>
<polygon points="770.0,325.0 773.0,325.0 778.9,331.0 778.9,334.2 774.7,334.2 774.7,341.7 768.3,341.7 768.3,334.2 764.1,334.2 764.1,331.0" fill="#ff0000"/>
<polygon points="860.0,313.0 863.0,313.0 868.9,319.0 868.9,322.2 864.7,322.2 864.7,329.7 858.3,329.7 858.3,322.2 854.1,322.2 854.1,319.0" fill="#ff0000"/>
<polygon points="1067.0,280.0 1070.0,280.0 1075.9,286.0 1075.9,289.2 1071.7,289.2 1071.7,296.7 1065.3,296.7 1065.3,289.2 1061.1,289.2 1061.1,286.0" fill="#ff0000"/>
<polygon points="1139.0,278.7 1142.0,278.7 1147.9,284.7 1147.9,287.9 1143.7,287.9 1143.7,295.4 1137.3,295.4 1137.3,287.9 1133.1,287.9 1133.1,284.7" fill="#ff0000"/>
<polygon points="1247.0,364.0 1250.0,364.0 1255.9,370.0 1255.9,373.2 1251.7,373.2 1251.7,380.7 1245.3,380.7 1245.3,373.2 1241.1,373.2 1241.1,370.0" fill="#ff0000"/>
<rect x="0" y="0" width="1494" height="10" fill="#d6d6d6"/>
<rect x="0" y="7" width="1494" height="1" fill="#c4c4c4"/>
<rect x="0" y="8" width="1494" height="1" fill="#858585"/>
<rect x="0" y="9" width="1494" height="1" fill="#2a2a2a"/>
<rect x="3" y="0" width="25" height="1.5" fill="#f4f4f4"/>
<rect x="580" y="0" width="58" height="7" fill="#e2e2e2"/>
<rect x="648" y="0" width="58" height="7" fill="#e2e2e2"/>
<rect x="0" y="0" width="2" height="894" fill="#e8e8e8"/>
<line x1="2" y1="537.2" x2="1494" y2="537.2" stroke="#900000" stroke-width="2"/>
<line x1="2" y1="713" x2="1494" y2="713" stroke="#900000" stroke-width="2"/>
<line x1="2" y1="890.2" x2="1494" y2="890.2" stroke="#900000" stroke-width="2"/>
<line x1="1468.6" y1="9" x2="1468.6" y2="894" stroke="#900000" stroke-width="1.8"/>
<line x1="1469" y1="33.5" x2="1477.5" y2="33.5" stroke="#900000" stroke-width="1.5"/><line x1="1469" y1="96" x2="1477.5" y2="96" stroke="#900000" stroke-width="1.5"/><line x1="1469" y1="157.5" x2="1477.5" y2="157.5" stroke="#900000" stroke-width="1.5"/><line x1="1469" y1="219" x2="1477.5" y2="219" stroke="#900000" stroke-width="1.5"/><line x1="1469" y1="281" x2="1477.5" y2="281" stroke="#900000" stroke-width="1.5"/><line x1="1469" y1="343.5" x2="1477.5" y2="343.5" stroke="#900000" stroke-width="1.5"/><line x1="1469" y1="405.5" x2="1477.5" y2="405.5" stroke="#900000" stroke-width="1.5"/><line x1="1469" y1="468" x2="1477.5" y2="468" stroke="#900000" stroke-width="1.5"/><line x1="1469" y1="65" x2="1472.5" y2="65" stroke="#900000" stroke-width="1.5"/><line x1="1469" y1="127" x2="1472.5" y2="127" stroke="#900000" stroke-width="1.5"/><line x1="1469" y1="189" x2="1472.5" y2="189" stroke="#900000" stroke-width="1.5"/><line x1="1469" y1="250.5" x2="1472.5" y2="250.5" stroke="#900000" stroke-width="1.5"/><line x1="1469" y1="313.5" x2="1472.5" y2="313.5" stroke="#900000" stroke-width="1.5"/><line x1="1469" y1="375.5" x2="1472.5" y2="375.5" stroke="#900000" stroke-width="1.5"/><line x1="1469" y1="436.8" x2="1472.5" y2="436.8" stroke="#900000" stroke-width="1.5"/><line x1="1469" y1="563" x2="1477.5" y2="563" stroke="#900000" stroke-width="1.5"/><line x1="1469" y1="612.5" x2="1477.5" y2="612.5" stroke="#900000" stroke-width="1.5"/><line x1="1469" y1="662" x2="1477.5" y2="662" stroke="#900000" stroke-width="1.5"/><line x1="1469" y1="588" x2="1472.5" y2="588" stroke="#900000" stroke-width="1.5"/><line x1="1469" y1="638" x2="1472.5" y2="638" stroke="#900000" stroke-width="1.5"/>
<line x1="121" y1="890" x2="121" y2="894" stroke="#900000" stroke-width="1.5"/><line x1="155.6" y1="890" x2="155.6" y2="894" stroke="#900000" stroke-width="1.5"/><line x1="189" y1="890" x2="189" y2="894" stroke="#900000" stroke-width="1.5"/><line x1="223.6" y1="890" x2="223.6" y2="894" stroke="#900000" stroke-width="1.5"/><line x1="256" y1="890" x2="256" y2="894" stroke="#900000" stroke-width="1.5"/><line x1="304" y1="890" x2="304" y2="894" stroke="#900000" stroke-width="1.5"/><line x1="350.7" y1="890" x2="350.7" y2="894" stroke="#900000" stroke-width="1.5"/><line x1="398" y1="890" x2="398" y2="894" stroke="#900000" stroke-width="1.5"/><line x1="445" y1="890" x2="445" y2="894" stroke="#900000" stroke-width="1.5"/><line x1="493.5" y1="890" x2="493.5" y2="894" stroke="#900000" stroke-width="1.5"/><line x1="539.5" y1="890" x2="539.5" y2="894" stroke="#900000" stroke-width="1.5"/><line x1="587.7" y1="890" x2="587.7" y2="894" stroke="#900000" stroke-width="1.5"/><line x1="634.6" y1="890" x2="634.6" y2="894" stroke="#900000" stroke-width="1.5"/><line x1="679" y1="890" x2="679" y2="894" stroke="#900000" stroke-width="1.5"/><line x1="724.3" y1="890" x2="724.3" y2="894" stroke="#900000" stroke-width="1.5"/><line x1="769.5" y1="890" x2="769.5" y2="894" stroke="#900000" stroke-width="1.5"/><line x1="814" y1="890" x2="814" y2="894" stroke="#900000" stroke-width="1.5"/><line x1="857.5" y1="890" x2="857.5" y2="894" stroke="#900000" stroke-width="1.5"/><line x1="900" y1="890" x2="900" y2="894" stroke="#900000" stroke-width="1.5"/><line x1="1037.9" y1="890" x2="1037.9" y2="894" stroke="#900000" stroke-width="1.5"/><line x1="1088.5" y1="890" x2="1088.5" y2="894" stroke="#900000" stroke-width="1.5"/><line x1="1141" y1="890" x2="1141" y2="894" stroke="#900000" stroke-width="1.5"/><line x1="1192.4" y1="890" x2="1192.4" y2="894" stroke="#900000" stroke-width="1.5"/><line x1="1241.3" y1="890" x2="1241.3" y2="894" stroke="#900000" stroke-width="1.5"/><line x1="1291.3" y1="890" x2="1291.3" y2="894" stroke="#900000" stroke-width="1.5"/><line x1="1340.9" y1="890" x2="1340.9" y2="894" stroke="#900000" stroke-width="1.5"/><line x1="1390.5" y1="890" x2="1390.5" y2="894" stroke="#900000" stroke-width="1.5"/>
<rect x="906" y="891" width="116.5" height="3" fill="#0000ff"/>
<svg x="906" y="891" width="116.5" height="3"><text transform="translate(3.5,906.4) scale(0.86,1)" y="-891" fill="#9090ff" font-family="Liberation Sans, sans-serif" font-size="18" textLength="96" lengthAdjust="spacing">2019/04/08</text></svg>
<rect x="1469.5" y="689.5" width="30" height="23" fill="none" stroke="#900000" stroke-width="1.5"/>
<polygon points="1435,16.5 1442.5,24 1435,31.5 1427.5,24" fill="none" stroke="#900000" stroke-width="1.3"/>
<rect x="1450" y="17" width="14" height="15" fill="none" stroke="#900000" stroke-width="1.3"/>
<line x1="1460" y1="17" x2="1460" y2="32" stroke="#900000" stroke-width="1.3"/>
<polygon points="4,481 11,487.5 4,494" fill="#e09010"/>
<text x="3.5" y="31.2" fill="#d8d8d8" font-family="Liberation Sans, Noto Sans CJK SC, sans-serif" font-size="19.7" font-weight="300" textLength="177.5" lengthAdjust="spacingAndGlyphs">上证指数(日线.前复权)</text>
<polygon points="196.9,14.3 199.9,14.3 205.8,20.3 205.8,23.5 201.6,23.5 201.6,31.0 195.2,31.0 195.2,23.5 191.0,23.5 191.0,20.3" fill="#ff0000"/>
<text transform="translate(211,29.5) scale(0.86,1)" fill="#d8d8d8" font-family="Liberation Sans, sans-serif" font-size="18" textLength="133.72" lengthAdjust="spacing" >EXPMA(12,50)</text>
<text transform="translate(336,29.5) scale(0.86,1)" fill="#d8d8d8" font-family="Liberation Sans, sans-serif" font-size="18" textLength="138.95" lengthAdjust="spacing" >EXP1: 2942.19</text>
<text transform="translate(464.5,29.5) scale(0.86,1)" fill="#ffff00" font-family="Liberation Sans, sans-serif" font-size="18" textLength="140.12" lengthAdjust="spacing" >EXP2: 2909.22</text>
<text transform="translate(2.4,556) scale(0.86,1)" fill="#d8d8d8" font-family="Liberation Sans, sans-serif" font-size="18" textLength="233.02" lengthAdjust="spacing" >VOLUME: 243377760.00</text>
<text transform="translate(213.2,556) scale(0.86,1)" fill="#d8d8d8" font-family="Liberation Sans, sans-serif" font-size="18" textLength="187.33" lengthAdjust="spacing" >MA5: 236027920.00</text>
<text transform="translate(383.7,556) scale(0.86,1)" fill="#ffff00" font-family="Liberation Sans, sans-serif" font-size="18" textLength="200.00" lengthAdjust="spacing" >MA10: 214673920.00</text>
<text transform="translate(2.7,730.8) scale(0.86,1)" fill="#d8d8d8" font-family="Liberation Sans, sans-serif" font-size="18" textLength="99.65" lengthAdjust="spacing" >KDJ(9,3,3)</text>
<text transform="translate(97.2,730.8) scale(0.86,1)" fill="#d8d8d8" font-family="Liberation Sans, sans-serif" font-size="18" textLength="76.51" lengthAdjust="spacing" >K: 91.53</text>
<text transform="translate(172.3,730.8) scale(0.86,1)" fill="#ffff00" font-family="Liberation Sans, sans-serif" font-size="18" textLength="78.37" lengthAdjust="spacing" >D: 87.66</text>
<text transform="translate(247.4,730.8) scale(0.86,1)" fill="#ff00ff" font-family="Liberation Sans, sans-serif" font-size="18" textLength="75.00" lengthAdjust="spacing" >J: 99.26</text>
<g stroke="#d0d0d0" stroke-width="1.3" fill="none"><line x1="483.2" y1="39.2" x2="488" y2="39.2"/><line x1="482.7" y1="38.6" x2="482.7" y2="43.6"/><line x1="483.2" y1="42.2" x2="488" y2="42.2"/><line x1="483" y1="43.5" x2="486.5" y2="47.5"/><polyline points="488.3,43.8 492.2,43.8 493.5,45.5 500,47"/></g>
<text transform="translate(504.5,54.7) scale(0.86,1)" fill="#d0d0d0" font-family="Liberation Sans, sans-serif" font-size="18" textLength="74.42" lengthAdjust="spacing" >3288.45</text>
<line x1="8" y1="510.5" x2="24" y2="510.5" stroke="#d0d0d0" stroke-width="1.5"/>
<polyline points="10,507 6,510.5 10,514" fill="none" stroke="#d0d0d0" stroke-width="1.5"/>
<text transform="translate(26,517.8) scale(0.86,1)" fill="#d0d0d0" font-family="Liberation Sans, sans-serif" font-size="18" textLength="74.77" lengthAdjust="spacing" >2532.43</text>
<line x1="1428.4" y1="217.6" x2="1468" y2="217.6" stroke="#8c8c8c" stroke-width="1.5"/>
<svg x="1400" y="200" width="68" height="50"><text x="33" y="38.7" fill="#d0d0d0" font-family="Liberation Sans, sans-serif" font-size="18" textLength="42" lengthAdjust="spacingAndGlyphs">2999.</text></svg>
<rect x="1469.5" y="319.6" width="26" height="24.4" fill="#0000ff" stroke="#900000" stroke-width="1.5"/>
<text transform="translate(1470.3,336.8) scale(0.9,1)" fill="#e8e8ff" font-family="Liberation Sans, sans-serif" font-size="17.5">2800</text>
<text x="1489.5" y="569.5" fill="#c00000" font-family="Liberation Sans, sans-serif" font-size="18">6</text>
<text x="1489.5" y="619" fill="#c00000" font-family="Liberation Sans, sans-serif" font-size="18">4</text>
<text x="1489.5" y="668.5" fill="#c00000" font-family="Liberation Sans, sans-serif" font-size="18">2</text>
<text x="1472" y="708" fill="#c00000" font-family="Liberation Sans, sans-serif" font-size="18">X1</text>
<text x="1485" y="764" fill="#c00000" font-family="Liberation Sans, sans-serif" font-size="18">1</text>
</svg>
</body></html>
